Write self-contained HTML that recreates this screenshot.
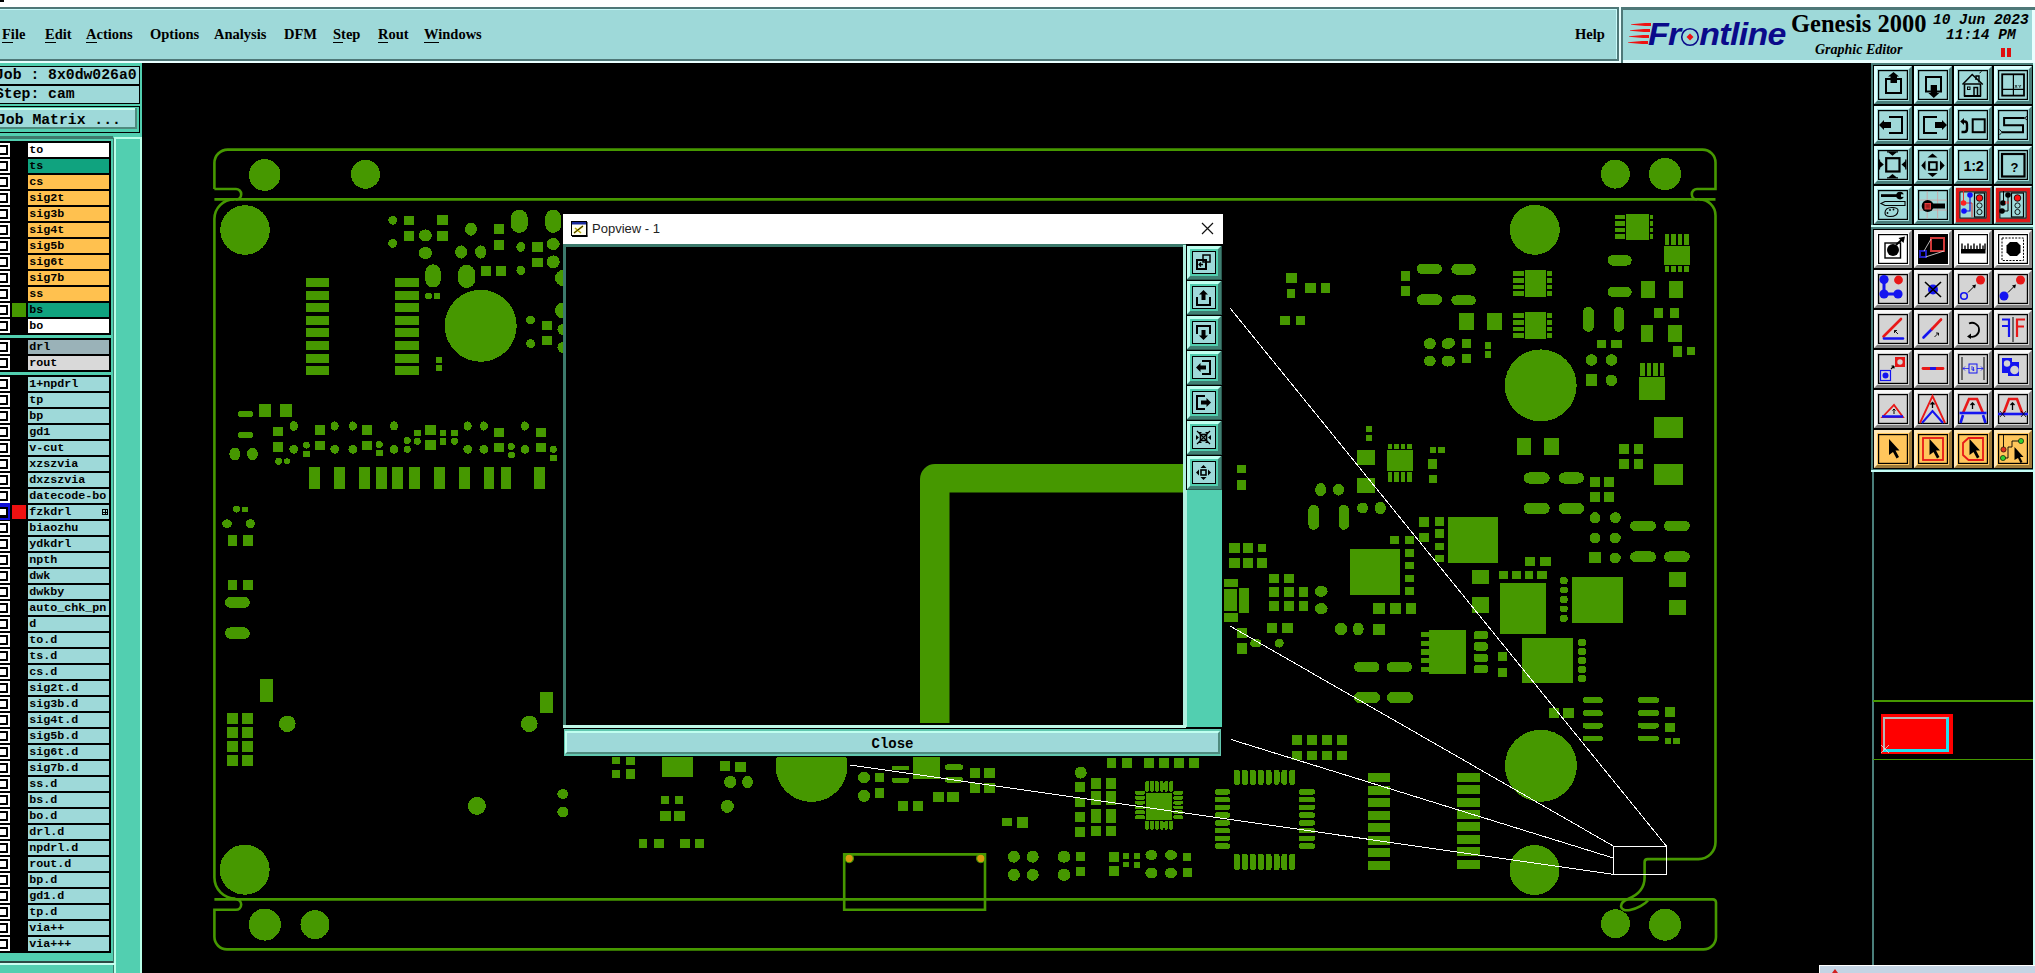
<!DOCTYPE html>
<html><head><meta charset="utf-8"><style>
html,body{margin:0;padding:0;width:2035px;height:973px;overflow:hidden;background:#000;position:relative}
div{box-sizing:border-box}
.a{position:absolute}
.mi{position:absolute;top:24px;font:bold 14.5px "Liberation Serif",serif;color:#000;line-height:20px;white-space:nowrap}
.lb{position:absolute;left:28px;width:81px;height:14px;font:bold 11.7px "Liberation Mono",monospace;line-height:14.6px;padding-left:1.2px;color:#000;white-space:nowrap;overflow:hidden}
.cb{position:absolute;left:0;width:10px;height:14px;background:#fff}
.cb i{position:absolute;left:-2px;top:2px;width:9.8px;height:10px;border:2px solid #000;box-sizing:border-box;background:#fff}
.tb{position:absolute;width:39px;height:39px;background:#4c7a74}
</style></head><body>

<div style="position:absolute;left:0;top:0;width:2035px;height:7px;background:#fff"></div>
<div style="position:absolute;left:0;top:0;width:4px;height:2px;background:#000"></div>
<div style="position:absolute;left:0;top:7px;width:1621px;height:56px;background:#4f7878"></div>
<div style="position:absolute;left:0;top:9px;width:1618px;height:50px;background:#c8fafa"></div>
<div style="position:absolute;left:0;top:10px;width:1616px;height:49px;background:#9ed9d9"></div>
<div style="position:absolute;left:0;top:59px;width:1618px;height:2px;background:#4f7878"></div>
<div style="position:absolute;left:1617px;top:9px;width:2px;height:52px;background:#4f7878"></div>
<div style="position:absolute;left:0;top:61px;width:1621px;height:2px;background:#e8ffff"></div>
<div style="position:absolute;left:1619px;top:7px;width:2px;height:56px;background:#e8ffff"></div>
<div style="position:absolute;left:1621px;top:7px;width:414px;height:56px;background:#4f7878"></div>
<div style="position:absolute;left:1623px;top:10px;width:412px;height:53px;background:#e8ffff"></div>
<div style="position:absolute;left:1623px;top:10px;width:409px;height:50px;background:#9ed9d9"></div>
<div class="mi" style="left:2px">File</div>
<div class="mi" style="left:45px">Edit</div>
<div class="mi" style="left:86px">Actions</div>
<div class="mi" style="left:150px">Options</div>
<div class="mi" style="left:214px">Analysis</div>
<div class="mi" style="left:284px">DFM</div>
<div class="mi" style="left:333px">Step</div>
<div class="mi" style="left:378px">Rout</div>
<div class="mi" style="left:424px">Windows</div>
<div class="mi" style="left:1575px">Help</div>
<div style="position:absolute;left:2px;top:42px;width:11px;height:1px;background:#000"></div>
<div style="position:absolute;left:45px;top:42px;width:11px;height:1px;background:#000"></div>
<div style="position:absolute;left:86px;top:42px;width:11px;height:1px;background:#000"></div>
<div style="position:absolute;left:333px;top:42px;width:10px;height:1px;background:#000"></div>
<div style="position:absolute;left:378px;top:42px;width:10px;height:1px;background:#000"></div>
<div style="position:absolute;left:424px;top:42px;width:15px;height:1px;background:#000"></div>
<div class="a" style="left:1631px;top:23px;width:20px;height:3px;background:#ee1111;clip-path:polygon(0 40%,70% 0,100% 0,100% 100%,70% 100%,0 60%)"></div>
<div class="a" style="left:1630px;top:29px;width:20px;height:3px;background:#ee1111;clip-path:polygon(0 40%,70% 0,100% 0,100% 100%,70% 100%,0 60%)"></div>
<div class="a" style="left:1629px;top:35px;width:20px;height:3px;background:#ee1111;clip-path:polygon(0 40%,70% 0,100% 0,100% 100%,70% 100%,0 60%)"></div>
<div class="a" style="left:1628px;top:41px;width:20px;height:3px;background:#ee1111;clip-path:polygon(0 40%,70% 0,100% 0,100% 100%,70% 100%,0 60%)"></div>
<div class="a" style="left:1648px;top:15px;font:bold italic 31px 'Liberation Sans',sans-serif;color:#0a0a8a;line-height:40px;letter-spacing:-0.6px;white-space:nowrap;transform:scaleX(1.095);transform-origin:0 0">Fr<span style="display:inline-block;width:17px"></span>ntline</div>
<svg class="a" style="left:1679px;top:26px" width="22" height="22"><circle cx="11" cy="11" r="8.3" fill="none" stroke="#0a0a8a" stroke-width="1.6"/><path d="M11 7.5 L14.5 11 L11 14.5 L7.5 11Z" fill="#ee1111"/></svg>
<div class="a" style="left:1791px;top:9px;font:bold 24.5px 'Liberation Serif',serif;color:#000;line-height:30px;white-space:nowrap">Genesis 2000</div>
<div class="a" style="left:1815px;top:42px;font:bold italic 14px 'Liberation Serif',serif;color:#000;line-height:16px;white-space:nowrap">Graphic Editor</div>
<div class="a" style="left:1933px;top:11.5px;font:bold italic 14.5px 'Liberation Mono',monospace;color:#000;line-height:16px;white-space:nowrap">10 Jun 2023</div>
<div class="a" style="left:1946px;top:26.5px;font:bold italic 14.5px 'Liberation Mono',monospace;color:#000;line-height:16px;white-space:nowrap">11:14 PM</div>
<div class="a" style="left:2001px;top:48px;width:4px;height:9px;background:#e01010"></div>
<div class="a" style="left:2007px;top:48px;width:4px;height:9px;background:#e01010"></div>
<div class="a" style="left:0px;top:63px;width:142px;height:910px;background:#52cfb0;"></div>
<div class="a" style="left:0px;top:66px;width:140px;height:38px;background:#000;"></div>
<div class="a" style="left:0px;top:67px;width:139px;height:17px;background:#9ed9d9;"></div>
<div class="a" style="left:0px;top:86px;width:139px;height:17px;background:#9ed9d9;"></div>
<div class="a" style="left:-5px;top:67px;font:bold 14.75px 'Liberation Mono',monospace;line-height:17px;white-space:nowrap">Job : 8x0dw026a0</div>
<div class="a" style="left:-5px;top:86px;font:bold 14.75px 'Liberation Mono',monospace;line-height:17px;white-space:nowrap">Step: cam</div>
<div class="a" style="left:0px;top:106px;width:140px;height:27px;background:#000;"></div>
<div class="a" style="left:0px;top:107px;width:139px;height:25px;background:#52cfb0;"></div>
<div class="a" style="left:0px;top:108px;width:137px;height:21px;background:#4f8a7e;"></div>
<div class="a" style="left:0px;top:108px;width:135px;height:2px;background:#c8fff0;"></div>
<div class="a" style="left:0px;top:110px;width:135px;height:17px;background:#9ed9d9;"></div>
<div class="a" style="left:-3px;top:111.5px;font:bold 14.75px 'Liberation Mono',monospace;line-height:17px;white-space:nowrap">Job Matrix ...</div>
<div class="a" style="left:0px;top:136px;width:113px;height:3px;background:#3f7a6c;"></div>
<div class="a" style="left:0px;top:139px;width:113px;height:2px;background:#52cfb0;"></div>
<div class="a" style="left:0px;top:141px;width:111px;height:812px;background:#000;"></div>
<div class="a" style="left:113px;top:138px;width:1px;height:835px;background:#3f7a6c;"></div>
<div class="a" style="left:114px;top:137px;width:28px;height:836px;background:#b8ffe8;"></div>
<div class="a" style="left:116px;top:139px;width:24px;height:834px;background:#52cfb0;"></div>
<div class="a" style="left:0px;top:961px;width:113px;height:2px;background:#2c4a44;"></div>
<div class="a" style="left:0px;top:963px;width:115px;height:2px;background:#c8fff0;"></div>
<div class="a" style="left:0px;top:335px;width:111px;height:3px;background:#52cfb0;"></div>
<div class="a" style="left:0px;top:372px;width:111px;height:3px;background:#52cfb0;"></div>
<div class="cb" style="top:143px"><i></i></div>
<div class="lb" style="top:143px;background:#ffffff">to</div>
<div class="cb" style="top:159px"><i></i></div>
<div class="lb" style="top:159px;background:#10a37f">ts</div>
<div class="cb" style="top:175px"><i></i></div>
<div class="lb" style="top:175px;background:#ffc14f">cs</div>
<div class="cb" style="top:191px"><i></i></div>
<div class="lb" style="top:191px;background:#ffc14f">sig2t</div>
<div class="cb" style="top:207px"><i></i></div>
<div class="lb" style="top:207px;background:#ffc14f">sig3b</div>
<div class="cb" style="top:223px"><i></i></div>
<div class="lb" style="top:223px;background:#ffc14f">sig4t</div>
<div class="cb" style="top:239px"><i></i></div>
<div class="lb" style="top:239px;background:#ffc14f">sig5b</div>
<div class="cb" style="top:255px"><i></i></div>
<div class="lb" style="top:255px;background:#ffc14f">sig6t</div>
<div class="cb" style="top:271px"><i></i></div>
<div class="lb" style="top:271px;background:#ffc14f">sig7b</div>
<div class="cb" style="top:287px"><i></i></div>
<div class="lb" style="top:287px;background:#ffc14f">ss</div>
<div class="cb" style="top:303px"><i></i></div>
<div class="lb" style="top:303px;background:#10a37f">bs</div>
<div class="cb" style="top:319px"><i></i></div>
<div class="lb" style="top:319px;background:#ffffff">bo</div>
<div class="cb" style="top:340px"><i></i></div>
<div class="lb" style="top:340px;background:#9ab2b8">drl</div>
<div class="cb" style="top:356px"><i></i></div>
<div class="lb" style="top:356px;background:#d9d9d9">rout</div>
<div class="cb" style="top:377px"><i></i></div>
<div class="lb" style="top:377px;background:#9ed9d9">1+npdrl</div>
<div class="cb" style="top:393px"><i></i></div>
<div class="lb" style="top:393px;background:#9ed9d9">tp</div>
<div class="cb" style="top:409px"><i></i></div>
<div class="lb" style="top:409px;background:#9ed9d9">bp</div>
<div class="cb" style="top:425px"><i></i></div>
<div class="lb" style="top:425px;background:#9ed9d9">gd1</div>
<div class="cb" style="top:441px"><i></i></div>
<div class="lb" style="top:441px;background:#9ed9d9">v-cut</div>
<div class="cb" style="top:457px"><i></i></div>
<div class="lb" style="top:457px;background:#9ed9d9">xzszvia</div>
<div class="cb" style="top:473px"><i></i></div>
<div class="lb" style="top:473px;background:#9ed9d9">dxzszvia</div>
<div class="cb" style="top:489px"><i></i></div>
<div class="lb" style="top:489px;background:#9ed9d9">datecode-bo</div>
<div class="cb" style="top:505px"><i></i></div>
<div class="lb" style="top:505px;background:#9ed9d9">fzkdrl</div>
<div class="cb" style="top:521px"><i></i></div>
<div class="lb" style="top:521px;background:#9ed9d9">biaozhu</div>
<div class="cb" style="top:537px"><i></i></div>
<div class="lb" style="top:537px;background:#9ed9d9">ydkdrl</div>
<div class="cb" style="top:553px"><i></i></div>
<div class="lb" style="top:553px;background:#9ed9d9">npth</div>
<div class="cb" style="top:569px"><i></i></div>
<div class="lb" style="top:569px;background:#9ed9d9">dwk</div>
<div class="cb" style="top:585px"><i></i></div>
<div class="lb" style="top:585px;background:#9ed9d9">dwkby</div>
<div class="cb" style="top:601px"><i></i></div>
<div class="lb" style="top:601px;background:#9ed9d9">auto_chk_pn</div>
<div class="cb" style="top:617px"><i></i></div>
<div class="lb" style="top:617px;background:#9ed9d9">d</div>
<div class="cb" style="top:633px"><i></i></div>
<div class="lb" style="top:633px;background:#9ed9d9">to.d</div>
<div class="cb" style="top:649px"><i></i></div>
<div class="lb" style="top:649px;background:#9ed9d9">ts.d</div>
<div class="cb" style="top:665px"><i></i></div>
<div class="lb" style="top:665px;background:#9ed9d9">cs.d</div>
<div class="cb" style="top:681px"><i></i></div>
<div class="lb" style="top:681px;background:#9ed9d9">sig2t.d</div>
<div class="cb" style="top:697px"><i></i></div>
<div class="lb" style="top:697px;background:#9ed9d9">sig3b.d</div>
<div class="cb" style="top:713px"><i></i></div>
<div class="lb" style="top:713px;background:#9ed9d9">sig4t.d</div>
<div class="cb" style="top:729px"><i></i></div>
<div class="lb" style="top:729px;background:#9ed9d9">sig5b.d</div>
<div class="cb" style="top:745px"><i></i></div>
<div class="lb" style="top:745px;background:#9ed9d9">sig6t.d</div>
<div class="cb" style="top:761px"><i></i></div>
<div class="lb" style="top:761px;background:#9ed9d9">sig7b.d</div>
<div class="cb" style="top:777px"><i></i></div>
<div class="lb" style="top:777px;background:#9ed9d9">ss.d</div>
<div class="cb" style="top:793px"><i></i></div>
<div class="lb" style="top:793px;background:#9ed9d9">bs.d</div>
<div class="cb" style="top:809px"><i></i></div>
<div class="lb" style="top:809px;background:#9ed9d9">bo.d</div>
<div class="cb" style="top:825px"><i></i></div>
<div class="lb" style="top:825px;background:#9ed9d9">drl.d</div>
<div class="cb" style="top:841px"><i></i></div>
<div class="lb" style="top:841px;background:#9ed9d9">npdrl.d</div>
<div class="cb" style="top:857px"><i></i></div>
<div class="lb" style="top:857px;background:#9ed9d9">rout.d</div>
<div class="cb" style="top:873px"><i></i></div>
<div class="lb" style="top:873px;background:#9ed9d9">bp.d</div>
<div class="cb" style="top:889px"><i></i></div>
<div class="lb" style="top:889px;background:#9ed9d9">gd1.d</div>
<div class="cb" style="top:905px"><i></i></div>
<div class="lb" style="top:905px;background:#9ed9d9">tp.d</div>
<div class="cb" style="top:921px"><i></i></div>
<div class="lb" style="top:921px;background:#9ed9d9">via++</div>
<div class="cb" style="top:937px"><i></i></div>
<div class="lb" style="top:937px;background:#9ed9d9">via+++</div>
<div class="a" style="left:12px;top:303px;width:14px;height:14px;background:#469800;"></div>
<div class="a" style="left:0px;top:503px;width:10px;height:17px;background:#1010d8;"></div>
<div class="a" style="left:0px;top:506.5px;width:8px;height:11px;background:#000;"></div>
<div class="a" style="left:0px;top:509px;width:6px;height:6px;background:#fff;"></div>
<div class="a" style="left:12px;top:505px;width:14px;height:14px;background:#ee1111;"></div>
<div class="a" style="left:102px;top:509px;width:6px;height:6px;border:1px solid #000;box-sizing:border-box;background:linear-gradient(#000,#000) center/1px 100% no-repeat,linear-gradient(#000,#000) center/100% 1px no-repeat"></div>
<svg class="a" style="left:0;top:0" width="2035" height="973" viewBox="0 0 2035 973">
<g fill="#469800" shape-rendering="crispEdges">
<circle cx="264.7" cy="175" r="15.8"/>
<circle cx="365.5" cy="174.2" r="14.5"/>
<circle cx="245" cy="230" r="24.8"/>
<circle cx="480.7" cy="325.8" r="36"/>
<rect x="306" y="278" width="23.4" height="9"/>
<rect x="306" y="290.6" width="23.4" height="9"/>
<rect x="306" y="303.2" width="23.4" height="9"/>
<rect x="306" y="315.8" width="23.4" height="9"/>
<rect x="306" y="328.4" width="23.4" height="9"/>
<rect x="306" y="341" width="23.4" height="9"/>
<rect x="306" y="353.6" width="23.4" height="9"/>
<rect x="306" y="366.2" width="23.4" height="9"/>
<rect x="395" y="278" width="23.6" height="9"/>
<rect x="395" y="290.6" width="23.6" height="9"/>
<rect x="395" y="303.2" width="23.6" height="9"/>
<rect x="395" y="315.8" width="23.6" height="9"/>
<rect x="395" y="328.4" width="23.6" height="9"/>
<rect x="395" y="341" width="23.6" height="9"/>
<rect x="395" y="353.6" width="23.6" height="9"/>
<rect x="395" y="366.2" width="23.6" height="9"/>
<rect x="436" y="357" width="6" height="6"/>
<rect x="436" y="365" width="6" height="6"/>
<circle cx="392.7" cy="220.3" r="4.4"/>
<rect x="404" y="216" width="9.5" height="8.7"/>
<rect x="437" y="215" width="10.6" height="9.7"/>
<circle cx="392.7" cy="243.4" r="4.4"/>
<rect x="404" y="231" width="9.5" height="9.7"/>
<ellipse cx="425.3" cy="235.4" rx="6.6" ry="6"/>
<rect x="437" y="231" width="10.6" height="9.7"/>
<ellipse cx="425.3" cy="253" rx="6.6" ry="6"/>
<ellipse cx="471" cy="229.2" rx="5.9" ry="6.6"/>
<rect x="494" y="224" width="10" height="10"/>
<rect x="494" y="240" width="10" height="10"/>
<rect x="510.8" y="209.7" width="17" height="23.2" rx="8.5"/>
<rect x="545.3" y="209.7" width="15.8" height="23.2" rx="7.9"/>
<ellipse cx="461.1" cy="252" rx="6" ry="6.6"/>
<ellipse cx="480.7" cy="252" rx="5.6" ry="6.6"/>
<ellipse cx="520.8" cy="246.9" rx="4.4" ry="5"/>
<rect x="532" y="242" width="10.8" height="9.8"/>
<ellipse cx="553.2" cy="244" rx="6.5" ry="6"/>
<rect x="532" y="258" width="10.8" height="8.8"/>
<circle cx="553.2" cy="261.9" r="6.5"/>
<rect x="425.3" y="264.4" width="15.4" height="23.2" rx="7.7"/>
<rect x="458.1" y="264.8" width="17" height="23.2" rx="8.5"/>
<rect x="481.1" y="266" width="9.9" height="10.4"/>
<rect x="496" y="266" width="9.8" height="10.4"/>
<ellipse cx="520.8" cy="270.3" rx="4.4" ry="4.8"/>
<circle cx="563" cy="278" r="8"/>
<ellipse cx="428.3" cy="296" rx="3.5" ry="3.2"/>
<rect x="434" y="293" width="6" height="5.6"/>
<circle cx="563" cy="310.5" r="8"/>
<circle cx="530.6" cy="320" r="4.4"/>
<circle cx="530.6" cy="343.6" r="4.4"/>
<rect x="542" y="321.4" width="10" height="8.9"/>
<rect x="542" y="336" width="10" height="9"/>
<circle cx="563" cy="329.5" r="5.5"/>
<circle cx="563" cy="347.5" r="5.5"/>
<rect x="237.6" y="411" width="15.4" height="6" rx="3"/>
<rect x="259" y="404" width="12" height="13"/>
<rect x="280" y="404" width="12" height="13"/>
<rect x="237.6" y="432" width="15.4" height="6" rx="3"/>
<ellipse cx="234.8" cy="454" rx="5.5" ry="6.5"/>
<ellipse cx="252.5" cy="454" rx="5.5" ry="6"/>
<rect x="273" y="427" width="9.5" height="8.6"/>
<rect x="273" y="442" width="9.5" height="10"/>
<ellipse cx="293.7" cy="426" rx="4.2" ry="5"/>
<circle cx="293.7" cy="449.3" r="4.4"/>
<circle cx="306.4" cy="445.2" r="3.4"/>
<rect x="303" y="451" width="7" height="5.9"/>
<circle cx="278.6" cy="461.3" r="3.4"/>
<circle cx="287" cy="461.3" r="3"/>
<rect x="315.3" y="425" width="9.3" height="9.6"/>
<rect x="315.3" y="441.3" width="9.3" height="8.5"/>
<ellipse cx="334.7" cy="426" rx="4" ry="4.6"/>
<circle cx="334.7" cy="449.3" r="4.4"/>
<ellipse cx="352.8" cy="426" rx="4" ry="4.6"/>
<circle cx="352.8" cy="449.3" r="4.4"/>
<rect x="362" y="425" width="9.5" height="9.6"/>
<rect x="362" y="441.3" width="9.5" height="8.5"/>
<circle cx="379.3" cy="444.5" r="3.5"/>
<rect x="376.3" y="450" width="6.5" height="5.8"/>
<ellipse cx="394" cy="426" rx="4" ry="4.6"/>
<circle cx="394" cy="449.3" r="4.4"/>
<circle cx="407.2" cy="440.4" r="3.5"/>
<circle cx="407.2" cy="449.3" r="3.5"/>
<rect x="414.3" y="430.3" width="6.7" height="5.3"/>
<circle cx="417.3" cy="441.3" r="3.5"/>
<rect x="425.3" y="425" width="10.6" height="10"/>
<rect x="425.3" y="440" width="10.6" height="10"/>
<rect x="440" y="430.3" width="6.2" height="5.3"/>
<rect x="440" y="438" width="6.2" height="7.2"/>
<rect x="451" y="430.3" width="7" height="5.3"/>
<circle cx="454.5" cy="441.3" r="3.5"/>
<ellipse cx="467.7" cy="426" rx="4" ry="4.6"/>
<circle cx="467.7" cy="449.3" r="4.4"/>
<ellipse cx="483.8" cy="426" rx="4" ry="4.6"/>
<circle cx="483.8" cy="449.3" r="4.4"/>
<rect x="494" y="428" width="10" height="9.4"/>
<rect x="494" y="443" width="10" height="9.4"/>
<circle cx="511.3" cy="446.6" r="3.5"/>
<circle cx="511.3" cy="455" r="3.5"/>
<ellipse cx="524.9" cy="426" rx="4" ry="4.6"/>
<circle cx="524.9" cy="449.3" r="4.4"/>
<rect x="536.4" y="428" width="9.2" height="9.4"/>
<rect x="536.4" y="443" width="9.2" height="9.4"/>
<circle cx="553.2" cy="449.3" r="3.5"/>
<rect x="550" y="455" width="6.7" height="5.8"/>
<rect x="309" y="467" width="11" height="22.4"/>
<rect x="333.8" y="467" width="11.2" height="22.4"/>
<rect x="359" y="467" width="11" height="22.4"/>
<rect x="376" y="467" width="11" height="22.4"/>
<rect x="392" y="467" width="11" height="22.4"/>
<rect x="409" y="467" width="11" height="22.4"/>
<rect x="434" y="467" width="11" height="22.4"/>
<rect x="459" y="467" width="11" height="22.4"/>
<rect x="483.8" y="467" width="10.2" height="22.4"/>
<rect x="500.5" y="467" width="10.5" height="22.4"/>
<rect x="534" y="467" width="11" height="22.4"/>
<circle cx="236.5" cy="509.1" r="3.5"/>
<rect x="242" y="507.2" width="5.9" height="4.7"/>
<ellipse cx="227" cy="523.6" rx="5" ry="4.3"/>
<circle cx="250.4" cy="523.6" r="4.5"/>
<rect x="228" y="535" width="9" height="10.7"/>
<rect x="243" y="535" width="9.7" height="10.7"/>
<rect x="228" y="580.2" width="9" height="9.4"/>
<rect x="243" y="580.2" width="9.7" height="9.4"/>
<rect x="225" y="597" width="24.8" height="10.8" rx="5.4"/>
<rect x="225" y="627.3" width="24.8" height="11.5" rx="5.8"/>
<rect x="260" y="679" width="13" height="22.6"/>
<rect x="227" y="713" width="10.6" height="10.5"/>
<rect x="227" y="727" width="10.6" height="10.5"/>
<rect x="227" y="741" width="10.6" height="10.5"/>
<rect x="227" y="755" width="10.6" height="10.5"/>
<rect x="242.2" y="713" width="10.8" height="10.5"/>
<rect x="242.2" y="727" width="10.8" height="10.5"/>
<rect x="242.2" y="741" width="10.8" height="10.5"/>
<rect x="242.2" y="755" width="10.8" height="10.5"/>
<circle cx="287.3" cy="723.8" r="8.3"/>
<rect x="540" y="691.8" width="13" height="21.2"/>
<circle cx="529.3" cy="723.8" r="8.3"/>
<circle cx="476.9" cy="805.9" r="9"/>
<ellipse cx="562.8" cy="794" rx="5.5" ry="4.8"/>
<ellipse cx="562.8" cy="812" rx="5.5" ry="5.5"/>
<circle cx="244.7" cy="869.7" r="25"/>
<circle cx="264.8" cy="924.6" r="16"/>
<circle cx="315" cy="924.6" r="14.5"/>
<rect x="612" y="757" width="8.2" height="6.7"/>
<rect x="626" y="757" width="9.2" height="8"/>
<rect x="612" y="770" width="8.2" height="7.6"/>
<rect x="626" y="768.8" width="9.2" height="9.9"/>
<rect x="662" y="757" width="31" height="19.5"/>
<rect x="720" y="760.6" width="9.8" height="10.4"/>
<rect x="735" y="761.7" width="10.8" height="10.3"/>
<circle cx="730.3" cy="782" r="6.2"/>
<ellipse cx="747.5" cy="782" rx="5.3" ry="6.4"/>
<circle cx="727.4" cy="806.4" r="6.5"/>
<circle cx="811.5" cy="766" r="36"/>
<rect x="661" y="796" width="8" height="7.7"/>
<rect x="675" y="796" width="8.2" height="7.7"/>
<rect x="660.2" y="811.3" width="10.4" height="9.5"/>
<rect x="674.3" y="811.3" width="10.2" height="9.5"/>
<rect x="639" y="839" width="8" height="9"/>
<rect x="654" y="839" width="10" height="9"/>
<rect x="680" y="839" width="10" height="9"/>
<rect x="695" y="839" width="9" height="9"/>
<circle cx="864" cy="777.6" r="6"/>
<circle cx="864" cy="795.8" r="6"/>
<rect x="875" y="772.8" width="9" height="9.2"/>
<rect x="875" y="788" width="9" height="10"/>
<rect x="891.7" y="765.5" width="17.7" height="4.8" rx="2.4"/>
<rect x="891.7" y="777.6" width="17.7" height="5.1" rx="2.6"/>
<rect x="913" y="757" width="27" height="21.7"/>
<rect x="945" y="764.4" width="18" height="5.9" rx="2.9"/>
<rect x="945" y="777.2" width="18" height="5.5" rx="2.8"/>
<rect x="970.2" y="768.4" width="9.8" height="9.6"/>
<rect x="984" y="768.4" width="10.5" height="9.6"/>
<rect x="970.2" y="783" width="9.8" height="9.5"/>
<rect x="984" y="783" width="10.5" height="9.5"/>
<rect x="933.3" y="792" width="10.4" height="9.5"/>
<rect x="947.4" y="792" width="11.6" height="9.5"/>
<rect x="898.3" y="801.3" width="10" height="9.5"/>
<rect x="913" y="801.3" width="10.3" height="9.5"/>
<rect x="1002" y="818" width="10" height="8"/>
<rect x="1017" y="817.3" width="10.6" height="10.7"/>
<rect x="1107" y="758" width="9" height="9.5"/>
<rect x="1122" y="758" width="10" height="9.5"/>
<rect x="1144" y="758" width="10" height="9.5"/>
<rect x="1159" y="758" width="10" height="9.5"/>
<rect x="1174" y="758" width="10" height="9.5"/>
<rect x="1189" y="758" width="10" height="9.5"/>
<circle cx="1080.7" cy="772.6" r="6"/>
<rect x="1075" y="782" width="9.6" height="10"/>
<rect x="1075" y="798" width="9.6" height="9"/>
<rect x="1075" y="812" width="9.6" height="10"/>
<rect x="1075" y="827" width="9.6" height="9.8"/>
<rect x="1091" y="778" width="9.6" height="10.5"/>
<rect x="1091" y="791" width="9.6" height="14"/>
<rect x="1091" y="808.5" width="9.6" height="14.3"/>
<rect x="1091" y="826" width="9.6" height="10"/>
<rect x="1106" y="778" width="10" height="10.5"/>
<rect x="1106" y="791" width="10" height="14"/>
<rect x="1106" y="808.5" width="10" height="14.3"/>
<rect x="1106" y="826" width="10" height="10"/>
<rect x="1146" y="792.7" width="26.2" height="26.9"/>
<rect x="1145.2" y="781" width="4" height="10.8" rx="1.8"/>
<rect x="1145.2" y="820.5" width="4" height="9.3" rx="1.8"/>
<rect x="1135" y="791" width="10" height="3.8" rx="1.8"/>
<rect x="1173.2" y="791" width="9.8" height="3.8" rx="1.8"/>
<rect x="1150" y="781" width="4" height="10.8" rx="1.8"/>
<rect x="1150" y="820.5" width="4" height="9.3" rx="1.8"/>
<rect x="1135" y="795.9" width="10" height="3.8" rx="1.8"/>
<rect x="1173.2" y="795.9" width="9.8" height="3.8" rx="1.8"/>
<rect x="1154.8" y="781" width="4" height="10.8" rx="1.8"/>
<rect x="1154.8" y="820.5" width="4" height="9.3" rx="1.8"/>
<rect x="1135" y="800.7" width="10" height="3.8" rx="1.8"/>
<rect x="1173.2" y="800.7" width="9.8" height="3.8" rx="1.8"/>
<rect x="1159.6" y="781" width="4" height="10.8" rx="1.8"/>
<rect x="1159.6" y="820.5" width="4" height="9.3" rx="1.8"/>
<rect x="1135" y="805.5" width="10" height="3.8" rx="1.8"/>
<rect x="1173.2" y="805.5" width="9.8" height="3.8" rx="1.8"/>
<rect x="1164.4" y="781" width="4" height="10.8" rx="1.8"/>
<rect x="1164.4" y="820.5" width="4" height="9.3" rx="1.8"/>
<rect x="1135" y="810.4" width="10" height="3.8" rx="1.8"/>
<rect x="1173.2" y="810.4" width="9.8" height="3.8" rx="1.8"/>
<rect x="1169.2" y="781" width="4" height="10.8" rx="1.8"/>
<rect x="1169.2" y="820.5" width="4" height="9.3" rx="1.8"/>
<rect x="1135" y="815.2" width="10" height="3.8" rx="1.8"/>
<rect x="1173.2" y="815.2" width="9.8" height="3.8" rx="1.8"/>
<circle cx="1013.9" cy="856.7" r="6"/>
<circle cx="1032.7" cy="856.7" r="6"/>
<circle cx="1013.9" cy="874.8" r="6"/>
<circle cx="1032.7" cy="874.8" r="6"/>
<ellipse cx="1064" cy="856.7" rx="6.5" ry="6"/>
<ellipse cx="1064" cy="874.8" rx="6.5" ry="6"/>
<rect x="1076" y="852" width="9" height="9"/>
<rect x="1076" y="867" width="9" height="9"/>
<rect x="1109" y="852" width="10.4" height="9.6"/>
<rect x="1109" y="866" width="10.4" height="10"/>
<rect x="1123" y="853" width="6" height="6"/>
<rect x="1123" y="862" width="6" height="5"/>
<rect x="1134" y="853" width="6" height="6"/>
<rect x="1134" y="861.5" width="6" height="6.2"/>
<ellipse cx="1151.4" cy="855" rx="6" ry="5"/>
<ellipse cx="1170.9" cy="855" rx="6" ry="5"/>
<ellipse cx="1151.4" cy="873" rx="6" ry="5.5"/>
<ellipse cx="1170.9" cy="873" rx="6" ry="5.5"/>
<rect x="1183" y="852.7" width="8" height="8.2"/>
<rect x="1183" y="867.7" width="9" height="9.3"/>
<rect x="1233.9" y="769.8" width="6" height="15" rx="2.5"/>
<rect x="1241.9" y="769.8" width="6" height="15" rx="2.5"/>
<rect x="1249.8" y="769.8" width="6" height="15" rx="2.5"/>
<rect x="1257.7" y="769.8" width="6" height="15" rx="2.5"/>
<rect x="1265.6" y="769.8" width="6" height="15" rx="2.5"/>
<rect x="1273.5" y="769.8" width="6" height="15" rx="2.5"/>
<rect x="1281.4" y="769.8" width="6" height="15" rx="2.5"/>
<rect x="1289.3" y="769.8" width="6" height="15" rx="2.5"/>
<rect x="1233.9" y="853.8" width="6" height="16.2" rx="2.5"/>
<rect x="1241.9" y="853.8" width="6" height="16.2" rx="2.5"/>
<rect x="1249.8" y="853.8" width="6" height="16.2" rx="2.5"/>
<rect x="1257.7" y="853.8" width="6" height="16.2" rx="2.5"/>
<rect x="1265.6" y="853.8" width="6" height="16.2" rx="2.5"/>
<rect x="1273.5" y="853.8" width="6" height="16.2" rx="2.5"/>
<rect x="1281.4" y="853.8" width="6" height="16.2" rx="2.5"/>
<rect x="1289.3" y="853.8" width="6" height="16.2" rx="2.5"/>
<rect x="1214.5" y="789.1" width="15.5" height="5.6" rx="2.3"/>
<rect x="1214.5" y="796.8" width="15.5" height="5.6" rx="2.3"/>
<rect x="1214.5" y="804.6" width="15.5" height="5.6" rx="2.3"/>
<rect x="1214.5" y="812.3" width="15.5" height="5.6" rx="2.3"/>
<rect x="1214.5" y="820.1" width="15.5" height="5.6" rx="2.3"/>
<rect x="1214.5" y="827.8" width="15.5" height="5.6" rx="2.3"/>
<rect x="1214.5" y="835.6" width="15.5" height="5.6" rx="2.3"/>
<rect x="1214.5" y="843.3" width="15.5" height="5.6" rx="2.3"/>
<rect x="1298.5" y="789.1" width="16.5" height="5.6" rx="2.3"/>
<rect x="1298.5" y="796.8" width="16.5" height="5.6" rx="2.3"/>
<rect x="1298.5" y="804.6" width="16.5" height="5.6" rx="2.3"/>
<rect x="1298.5" y="812.3" width="16.5" height="5.6" rx="2.3"/>
<rect x="1298.5" y="820.1" width="16.5" height="5.6" rx="2.3"/>
<rect x="1298.5" y="827.8" width="16.5" height="5.6" rx="2.3"/>
<rect x="1298.5" y="835.6" width="16.5" height="5.6" rx="2.3"/>
<rect x="1298.5" y="843.3" width="16.5" height="5.6" rx="2.3"/>
<rect x="1292" y="735" width="10" height="9.8"/>
<rect x="1306.7" y="735" width="10.3" height="9.8"/>
<rect x="1321.7" y="735" width="10.3" height="9.8"/>
<rect x="1336.7" y="735" width="9.8" height="9.8"/>
<rect x="1292" y="750.5" width="10" height="9.5"/>
<rect x="1306.7" y="750.5" width="10.3" height="9.5"/>
<rect x="1321.7" y="750.5" width="10.3" height="9.5"/>
<rect x="1336.7" y="750.5" width="9.8" height="9.5"/>
<rect x="1368" y="773" width="22" height="9"/>
<rect x="1368" y="785.5" width="22" height="9"/>
<rect x="1368" y="798" width="22" height="9"/>
<rect x="1368" y="810.5" width="22" height="9"/>
<rect x="1368" y="823" width="22" height="9"/>
<rect x="1368" y="835.5" width="22" height="9"/>
<rect x="1368" y="848" width="22" height="9"/>
<rect x="1368" y="860.5" width="22" height="9"/>
<circle cx="1540.9" cy="765.8" r="36"/>
<circle cx="1534.5" cy="870" r="25"/>
<circle cx="1615.5" cy="923.8" r="14.5"/>
<circle cx="1665" cy="924.7" r="16"/>
<rect x="1457.4" y="772.7" width="22.1" height="9"/>
<rect x="1457.4" y="785.1" width="22.1" height="9"/>
<rect x="1457.4" y="797.5" width="22.1" height="9"/>
<rect x="1457.4" y="809.9" width="22.1" height="9"/>
<rect x="1457.4" y="822.3" width="22.1" height="9"/>
<rect x="1457.4" y="834.7" width="22.1" height="9"/>
<rect x="1457.4" y="847.1" width="22.1" height="9"/>
<rect x="1457.4" y="859.5" width="22.1" height="9"/>
<rect x="1582.6" y="697.3" width="20.2" height="5.7" rx="2.9"/>
<rect x="1582.6" y="710.2" width="20.2" height="5.8" rx="2.9"/>
<rect x="1582.6" y="722.6" width="20.2" height="5.9" rx="2.9"/>
<rect x="1582.6" y="735.6" width="20.2" height="5.8" rx="2.9"/>
<rect x="1637.9" y="697.3" width="21.1" height="5.7" rx="2.9"/>
<rect x="1637.9" y="710.2" width="21.1" height="5.8" rx="2.9"/>
<rect x="1637.9" y="722.6" width="21.1" height="5.9" rx="2.9"/>
<rect x="1637.9" y="735.6" width="21.1" height="5.8" rx="2.9"/>
<rect x="1664.7" y="707.4" width="10.6" height="9.2"/>
<rect x="1664.7" y="722.6" width="10.6" height="9.2"/>
<rect x="1664.7" y="737.6" width="6.3" height="6.4"/>
<rect x="1673" y="737.6" width="7" height="6.4"/>
<rect x="1549" y="708" width="9.7" height="10.3"/>
<rect x="1563.3" y="708" width="10.7" height="10.3"/>
<circle cx="1615.3" cy="174.1" r="14.5"/>
<circle cx="1665" cy="174.1" r="16"/>
<circle cx="1534.8" cy="229.8" r="25"/>
<circle cx="1540.7" cy="385.4" r="36"/>
<rect x="1626.3" y="213.5" width="22.3" height="26.2"/>
<rect x="1615.3" y="214.5" width="9.5" height="4.6"/>
<rect x="1650.1" y="214.5" width="2.9" height="4.6"/>
<rect x="1615.3" y="221" width="9.5" height="4.6"/>
<rect x="1650.1" y="221" width="2.9" height="4.6"/>
<rect x="1615.3" y="227.6" width="9.5" height="4.6"/>
<rect x="1650.1" y="227.6" width="2.9" height="4.6"/>
<rect x="1615.3" y="234.1" width="9.5" height="4.6"/>
<rect x="1650.1" y="234.1" width="2.9" height="4.6"/>
<rect x="1663.5" y="245.6" width="26.3" height="19.1"/>
<rect x="1664.5" y="234.3" width="4.6" height="10.3"/>
<rect x="1664.5" y="265.7" width="4.6" height="5.9"/>
<rect x="1671.1" y="234.3" width="4.6" height="10.3"/>
<rect x="1671.1" y="265.7" width="4.6" height="5.9"/>
<rect x="1677.6" y="234.3" width="4.6" height="10.3"/>
<rect x="1677.6" y="265.7" width="4.6" height="5.9"/>
<rect x="1684.2" y="234.3" width="4.6" height="10.3"/>
<rect x="1684.2" y="265.7" width="4.6" height="5.9"/>
<rect x="1607.5" y="255.2" width="24.2" height="10.4" rx="5.2"/>
<rect x="1607.5" y="286.5" width="24.2" height="10.5" rx="5.2"/>
<rect x="1641.2" y="281.4" width="14" height="16.1"/>
<rect x="1669" y="281.4" width="14" height="16.1"/>
<rect x="1582.9" y="306.8" width="11" height="25" rx="5.5"/>
<rect x="1613.6" y="306.8" width="10.4" height="25" rx="5.2"/>
<rect x="1654" y="308.2" width="9" height="9.6"/>
<rect x="1669.5" y="308.2" width="9.5" height="9.6"/>
<rect x="1641.2" y="325.2" width="11.8" height="17"/>
<rect x="1668" y="325.2" width="14" height="17"/>
<rect x="1672.5" y="346" width="9.5" height="10.5"/>
<rect x="1687.4" y="347" width="7.4" height="8"/>
<rect x="1597.4" y="339.5" width="8.6" height="8.7"/>
<rect x="1611.4" y="339.5" width="10.4" height="8.7"/>
<circle cx="1591.4" cy="360" r="5.8"/>
<circle cx="1611.4" cy="360" r="5.8"/>
<rect x="1585.5" y="374.4" width="11.5" height="11.3"/>
<circle cx="1611.4" cy="380.4" r="5.8"/>
<rect x="1639" y="376.8" width="26" height="22.9"/>
<rect x="1640" y="362.5" width="4.6" height="13.3"/>
<rect x="1646.5" y="362.5" width="4.6" height="13.3"/>
<rect x="1653" y="362.5" width="4.6" height="13.3"/>
<rect x="1659.5" y="362.5" width="4.6" height="13.3"/>
<rect x="1525" y="270" width="20.8" height="27"/>
<rect x="1513" y="271" width="10.5" height="4.7"/>
<rect x="1547.3" y="271" width="4.5" height="4.7"/>
<rect x="1513" y="277.8" width="10.5" height="4.7"/>
<rect x="1547.3" y="277.8" width="4.5" height="4.7"/>
<rect x="1513" y="284.5" width="10.5" height="4.7"/>
<rect x="1547.3" y="284.5" width="4.5" height="4.7"/>
<rect x="1513" y="291.3" width="10.5" height="4.7"/>
<rect x="1547.3" y="291.3" width="4.5" height="4.7"/>
<rect x="1525" y="312.4" width="20.8" height="26.2"/>
<rect x="1513" y="313.4" width="10.5" height="4.6"/>
<rect x="1547.3" y="313.4" width="4.5" height="4.6"/>
<rect x="1513" y="319.9" width="10.5" height="4.6"/>
<rect x="1547.3" y="319.9" width="4.5" height="4.6"/>
<rect x="1513" y="326.5" width="10.5" height="4.6"/>
<rect x="1547.3" y="326.5" width="4.5" height="4.6"/>
<rect x="1513" y="333" width="10.5" height="4.6"/>
<rect x="1547.3" y="333" width="4.5" height="4.6"/>
<rect x="1451.3" y="264" width="24.5" height="10.6" rx="5.3"/>
<rect x="1451.3" y="295.4" width="24.5" height="9.9" rx="5"/>
<rect x="1458.5" y="313.3" width="15.2" height="16.4"/>
<rect x="1486.8" y="313.3" width="15.2" height="16.4"/>
<ellipse cx="1449" cy="343" rx="6" ry="5.5"/>
<ellipse cx="1449" cy="361" rx="6" ry="5.5"/>
<rect x="1461.8" y="338.6" width="8.9" height="9.6"/>
<rect x="1461.8" y="353.5" width="8.9" height="9.6"/>
<rect x="1484.7" y="342" width="6.6" height="7"/>
<rect x="1484.7" y="351" width="6.6" height="7"/>
<rect x="1654" y="417" width="29" height="20.9"/>
<rect x="1654" y="464" width="29" height="21"/>
<rect x="1286" y="272.8" width="11" height="10.4"/>
<rect x="1287" y="288.6" width="8.3" height="9.4"/>
<rect x="1305" y="283.2" width="11.2" height="9.8"/>
<rect x="1321.2" y="283.2" width="9.1" height="9.8"/>
<rect x="1280" y="316" width="10.3" height="9"/>
<rect x="1296" y="316" width="9" height="9"/>
<rect x="1401.4" y="270.8" width="8.6" height="9.9"/>
<rect x="1401.4" y="286" width="8.6" height="10.3"/>
<rect x="1416.7" y="264" width="25.3" height="9.8" rx="4.9"/>
<rect x="1416.7" y="294.3" width="25.3" height="10.7" rx="5.3"/>
<ellipse cx="1429.8" cy="343.7" rx="6" ry="5.5"/>
<ellipse cx="1447.5" cy="343.7" rx="6" ry="5.5"/>
<ellipse cx="1429.8" cy="361" rx="6" ry="5.5"/>
<ellipse cx="1447.5" cy="361" rx="6" ry="5.5"/>
<rect x="1366" y="426.3" width="5.8" height="5.7"/>
<rect x="1366" y="435" width="5.8" height="6"/>
<rect x="1357" y="450.3" width="18" height="14.3"/>
<rect x="1386.6" y="449.8" width="25.9" height="21"/>
<rect x="1387.6" y="444" width="4.5" height="4.8"/>
<rect x="1387.6" y="471.8" width="4.5" height="10.4"/>
<rect x="1394" y="444" width="4.5" height="4.8"/>
<rect x="1394" y="471.8" width="4.5" height="10.4"/>
<rect x="1400.5" y="444" width="4.5" height="4.8"/>
<rect x="1400.5" y="471.8" width="4.5" height="10.4"/>
<rect x="1407" y="444" width="4.5" height="4.8"/>
<rect x="1407" y="471.8" width="4.5" height="10.4"/>
<rect x="1429.8" y="447.3" width="6.2" height="5.4"/>
<rect x="1438.4" y="447.3" width="6.2" height="5.4"/>
<rect x="1428" y="459" width="9.2" height="10"/>
<rect x="1236.8" y="465" width="9.2" height="7.8"/>
<rect x="1236.8" y="480.2" width="9.6" height="9.8"/>
<ellipse cx="1320.7" cy="489.6" rx="5.5" ry="6.5"/>
<ellipse cx="1338.5" cy="489.6" rx="5.5" ry="6"/>
<rect x="1308.3" y="504.8" width="11" height="25" rx="5.5"/>
<rect x="1338.9" y="504.8" width="10" height="25" rx="5"/>
<rect x="1357" y="477.8" width="18" height="14.8"/>
<circle cx="1362.6" cy="508" r="5.5"/>
<ellipse cx="1380.4" cy="508" rx="5.5" ry="6.5"/>
<rect x="1428.5" y="475.3" width="8.7" height="7.4"/>
<rect x="1350" y="548.8" width="50.2" height="46.2"/>
<rect x="1390.3" y="536" width="8.7" height="8"/>
<rect x="1405" y="536" width="8.7" height="8"/>
<rect x="1405" y="548.8" width="8.7" height="7.9"/>
<rect x="1405" y="561.7" width="8.7" height="6.9"/>
<rect x="1405" y="574.8" width="8.7" height="7.4"/>
<rect x="1405" y="587" width="8.7" height="8.2"/>
<rect x="1373" y="603" width="11.9" height="11.2"/>
<rect x="1390.3" y="603" width="10.7" height="11.2"/>
<rect x="1406.3" y="603" width="9.9" height="11.2"/>
<rect x="1419.4" y="517.3" width="9.9" height="9.7"/>
<rect x="1419.4" y="532.8" width="9.9" height="9.2"/>
<rect x="1434.7" y="517.3" width="9.3" height="8.5"/>
<rect x="1434.7" y="529" width="9.3" height="8.7"/>
<rect x="1434.7" y="543.2" width="9.3" height="6.8"/>
<rect x="1434.7" y="555" width="9.3" height="7.4"/>
<rect x="1229.4" y="543.4" width="10.3" height="9.9"/>
<rect x="1243.4" y="543.4" width="9.9" height="9.9"/>
<rect x="1258.3" y="544.4" width="7.4" height="7.4"/>
<rect x="1229.4" y="558.2" width="10.3" height="9.8"/>
<rect x="1243.4" y="558.2" width="9.9" height="9.8"/>
<rect x="1257" y="558.2" width="10.4" height="9.8"/>
<rect x="1223.7" y="588.8" width="13.6" height="21.7"/>
<rect x="1224" y="578.5" width="14" height="8.5"/>
<rect x="1224" y="612.5" width="14" height="9.1"/>
<rect x="1239.2" y="587.8" width="9.9" height="25.2"/>
<rect x="1268.9" y="573.5" width="9.8" height="9.9"/>
<rect x="1283.7" y="573.5" width="9.8" height="9.9"/>
<rect x="1268.9" y="587.1" width="9.8" height="9.9"/>
<rect x="1283.7" y="587.1" width="9.8" height="9.9"/>
<rect x="1298.5" y="587.1" width="9.1" height="9.9"/>
<rect x="1268.9" y="601.2" width="9.8" height="9.8"/>
<rect x="1283.7" y="601.2" width="9.8" height="9.8"/>
<rect x="1298.5" y="601.2" width="9.1" height="9.8"/>
<ellipse cx="1321.2" cy="591.3" rx="6.5" ry="5.5"/>
<ellipse cx="1321.2" cy="608.6" rx="6.5" ry="5.5"/>
<rect x="1266.9" y="623.4" width="10.4" height="9.4"/>
<rect x="1282.2" y="623.4" width="11.1" height="9.4"/>
<rect x="1237.3" y="628.3" width="9.4" height="9.9"/>
<rect x="1237.3" y="643" width="9.4" height="10.7"/>
<rect x="1250.3" y="639.1" width="11" height="8" rx="4"/>
<circle cx="1279.2" cy="643.1" r="4.5"/>
<ellipse cx="1341" cy="629" rx="6" ry="6.5"/>
<ellipse cx="1358.2" cy="629" rx="5.5" ry="6.5"/>
<rect x="1373" y="624.1" width="12.3" height="10.6"/>
<rect x="1354" y="662" width="25.5" height="10.2" rx="5.1"/>
<rect x="1386.6" y="662" width="25.4" height="10.2" rx="5.1"/>
<rect x="1354" y="692" width="26" height="11" rx="5.5"/>
<rect x="1387" y="692" width="26" height="11" rx="5.5"/>
<rect x="1428.5" y="630.3" width="37.7" height="43.2"/>
<rect x="1421" y="632" width="7.5" height="5.2"/>
<rect x="1421" y="640.7" width="7.5" height="5.2"/>
<rect x="1421" y="649.3" width="7.5" height="5.2"/>
<rect x="1421" y="657.9" width="7.5" height="5.2"/>
<rect x="1421" y="666.6" width="7.5" height="5.2"/>
<rect x="1517" y="437.9" width="14" height="16.6"/>
<rect x="1544.3" y="437.9" width="14.3" height="16.6"/>
<rect x="1618.8" y="444" width="10.5" height="9.7"/>
<rect x="1633.7" y="444" width="9" height="9.7"/>
<rect x="1618.8" y="459" width="10.5" height="10"/>
<rect x="1633.7" y="459" width="9" height="10"/>
<rect x="1523.5" y="472.4" width="26.2" height="11.1" rx="5.6"/>
<rect x="1558.6" y="472.4" width="25.4" height="11.1" rx="5.6"/>
<rect x="1523.5" y="502.8" width="26.2" height="11.1" rx="5.5"/>
<rect x="1558.6" y="502.8" width="25.4" height="11.1" rx="5.5"/>
<rect x="1590" y="476.9" width="9.5" height="10.1"/>
<rect x="1604" y="476.9" width="9.8" height="10.1"/>
<rect x="1590" y="491.8" width="9.5" height="10.2"/>
<rect x="1604" y="491.8" width="9.8" height="10.2"/>
<circle cx="1595" cy="517.7" r="5.5"/>
<circle cx="1615.3" cy="517.7" r="5.5"/>
<circle cx="1595" cy="538" r="5.5"/>
<circle cx="1615.3" cy="538" r="5.5"/>
<rect x="1589" y="552" width="12" height="10.7"/>
<circle cx="1615.3" cy="558" r="5.5"/>
<rect x="1630.2" y="520.7" width="25.8" height="10.3" rx="5.1"/>
<rect x="1664" y="520.7" width="25.8" height="10.3" rx="5.1"/>
<rect x="1630.2" y="551.4" width="25.8" height="11" rx="5.5"/>
<rect x="1664" y="551.4" width="25.8" height="11" rx="5.5"/>
<rect x="1669" y="572" width="17" height="15.2"/>
<rect x="1669" y="599.7" width="17" height="14.9"/>
<rect x="1447.5" y="516.8" width="50.5" height="45.9"/>
<rect x="1525" y="556.5" width="10.4" height="9.8"/>
<rect x="1540" y="556.5" width="11" height="9.8"/>
<rect x="1499" y="570.5" width="9" height="8.9"/>
<rect x="1512" y="570.5" width="8.5" height="8.9"/>
<rect x="1525" y="570.5" width="8" height="8.9"/>
<rect x="1537" y="570.5" width="9.7" height="8.9"/>
<rect x="1500" y="583.3" width="46" height="50.7"/>
<rect x="1472.2" y="569.9" width="17" height="14.3"/>
<rect x="1472.2" y="596.7" width="17" height="16.4"/>
<rect x="1560.1" y="577.2" width="7.5" height="6.8" rx="2.5"/>
<rect x="1560.1" y="586.6" width="7.5" height="6.8" rx="2.5"/>
<rect x="1560.1" y="596.1" width="7.5" height="6.8" rx="2.5"/>
<rect x="1560.1" y="605.5" width="7.5" height="6.8" rx="2.5"/>
<rect x="1560.1" y="614.9" width="7.5" height="6.8" rx="2.5"/>
<rect x="1571.7" y="576.7" width="51" height="46.3"/>
<rect x="1473.7" y="631.1" width="14" height="8.2" rx="2.5"/>
<rect x="1473.7" y="642.4" width="14" height="8.2" rx="2.5"/>
<rect x="1473.7" y="653.7" width="14" height="8.2" rx="2.5"/>
<rect x="1473.7" y="665.1" width="14" height="8.2" rx="2.5"/>
<rect x="1497.5" y="651.9" width="9.5" height="8.9"/>
<rect x="1497.5" y="667.7" width="9.5" height="9.5"/>
<rect x="1522" y="637.9" width="51" height="45.3"/>
<rect x="1577.7" y="639.3" width="8.3" height="6.5" rx="2.5"/>
<rect x="1577.7" y="648.3" width="8.3" height="6.5" rx="2.5"/>
<rect x="1577.7" y="657.3" width="8.3" height="6.5" rx="2.5"/>
<rect x="1577.7" y="666.3" width="8.3" height="6.5" rx="2.5"/>
<rect x="1577.7" y="675.3" width="8.3" height="6.5" rx="2.5"/>
</g>
<g fill="none" stroke="#469800" stroke-width="2.6">
<path d="M214.4 189V163A13.4 13.4 0 0 1 227.8 149.6H1702.5A13 13 0 0 1 1715.5 162.6V189H1697A5.2 5.2 0 0 0 1697 199.4"/>
<path d="M214.4 189H236A5.2 5.2 0 0 1 236 199.4"/>
<path d="M214.4 199.4H1715.5"/>
<path d="M234 199.4A19.6 19.6 0 0 0 214.4 219V877.5A21 21 0 0 0 235.4 898.5"/>
<path d="M1699.5 199.4A16 16 0 0 1 1715.5 215.4V842A17 17 0 0 1 1698.5 859.1H1647.6A3 3 0 0 0 1644.6 862V877.5C1644.6 889 1638 895 1628 899C1618 903 1619 912 1630 910C1637 909 1645 904 1648 900.5"/>
<path d="M214.4 899.4H1713A3 3 0 0 1 1716 902.4V937A12.5 12.5 0 0 1 1703.5 949.4H227A12.6 12.6 0 0 1 214.4 936.8V909.8H236A5.2 5.2 0 0 0 236 899.4"/>
<path d="M844.2 854.4H985V909.7H844.2Z"/>
</g>
<circle cx="849.2" cy="858.4" r="4.2" fill="#d89a10" stroke="#469800" stroke-width="1.2"/>
<circle cx="980.8" cy="858.4" r="4.2" fill="#d89a10" stroke="#469800" stroke-width="1.2"/>
<g stroke="#ffffff" stroke-width="1" fill="none" shape-rendering="crispEdges">
<path d="M1230 308L1666.5 846.2M1230 626L1613.6 846.2M1231 739.5L1613.6 858.1M849.7 765L1613.6 874.4"/>
<rect x="1613.6" y="846.2" width="52.9" height="28.2"/>
</g>
<path d="M1873 700.6H2033M1873 759.2H2033" stroke="#469800" stroke-width="1.6"/>
</svg>
<div class="a" style="left:1871px;top:63px;width:164px;height:910px;background:#000"></div>
<div class="a" style="left:1871px;top:63px;width:164px;height:164px;background:#4a7e7a"></div>
<div class="a" style="left:1873px;top:65px;width:160px;height:160px;background:#000"></div>
<div class="a" style="left:1871px;top:225px;width:164px;height:2px;background:#c8fff8"></div>
<div class="a" style="left:2033px;top:63px;width:2px;height:164px;background:#c8fff8"></div>
<div class="a" style="left:1871px;top:227px;width:164px;height:245px;background:#4a7e7a"></div>
<div class="a" style="left:1873px;top:229px;width:160px;height:240px;background:#000"></div>
<div class="a" style="left:1871px;top:470px;width:164px;height:2px;background:#c8fff8"></div>
<div class="a" style="left:2033px;top:227px;width:2px;height:245px;background:#c8fff8"></div>
<svg class="a" style="left:1874px;top:66px" width="38" height="38" viewBox="0 0 38 38"><rect width="38" height="38" fill="#4a7e7a"/><path d="M0 0H38L35 3H3V35L0 38Z" fill="#dcffff"/><rect x="3" y="3" width="32" height="32" fill="#a0d9d9"/><rect x="4.6" y="4.6" width="28.8" height="28.8" fill="none" stroke="#000" stroke-width="1.2"/><rect x="12" y="13" width="15" height="14" fill="none" stroke="#000" stroke-width="2"/><path d="M19.5 6L25 10.5H23V17H16.5V10.5H14Z" fill="#000"/></svg>
<svg class="a" style="left:1914px;top:66px" width="38" height="38" viewBox="0 0 38 38"><rect width="38" height="38" fill="#4a7e7a"/><path d="M0 0H38L35 3H3V35L0 38Z" fill="#dcffff"/><rect x="3" y="3" width="32" height="32" fill="#a0d9d9"/><rect x="4.6" y="4.6" width="28.8" height="28.8" fill="none" stroke="#000" stroke-width="1.2"/><rect x="12" y="11" width="15" height="14.5" fill="none" stroke="#000" stroke-width="2"/><path d="M19.8 32L25.3 27H23V19H16.7V27H14.3Z" fill="#000"/></svg>
<svg class="a" style="left:1954px;top:66px" width="38" height="38" viewBox="0 0 38 38"><rect width="38" height="38" fill="#4a7e7a"/><path d="M0 0H38L35 3H3V35L0 38Z" fill="#dcffff"/><rect x="3" y="3" width="32" height="32" fill="#a0d9d9"/><rect x="4.6" y="4.6" width="28.8" height="28.8" fill="none" stroke="#000" stroke-width="1.2"/><path d="M8.5 18.5L18.2 8.5L28.8 18.5" fill="none" stroke="#000" stroke-width="1.5"/><path d="M10.5 17.5V29.8H26.5V17.5M10.5 18H26.5" fill="none" stroke="#000" stroke-width="1.6"/><path d="M10 30H27" stroke="#000" stroke-width="2"/><rect x="13.5" y="21" width="2.5" height="2.5" fill="none" stroke="#000" stroke-width="1"/><path d="M20 30V21.5H23.5V30" fill="none" stroke="#000" stroke-width="1.5"/><path d="M22 14V10H25V16.5" fill="none" stroke="#000" stroke-width="1.4"/><path d="M25.5 7L27.5 5.5" stroke="#000" stroke-width="1"/></svg>
<svg class="a" style="left:1994px;top:66px" width="38" height="38" viewBox="0 0 38 38"><rect width="38" height="38" fill="#4a7e7a"/><path d="M0 0H38L35 3H3V35L0 38Z" fill="#dcffff"/><rect x="3" y="3" width="32" height="32" fill="#a0d9d9"/><rect x="4.6" y="4.6" width="28.8" height="28.8" fill="none" stroke="#000" stroke-width="1.2"/><rect x="8.2" y="8.3" width="21.8" height="21.3" fill="none" stroke="#000" stroke-width="1.8"/><path d="M19.4 8.3V29.6M8.2 23.4H30" stroke="#000" stroke-width="1.2"/><path d="M21 19L23 21.8M23 19L21 21.8M24.5 19L25.8 20.4L27.1 19M25.8 20.4V21.8" stroke="#000" stroke-width="0.7" fill="none"/></svg>
<svg class="a" style="left:1874px;top:106px" width="38" height="38" viewBox="0 0 38 38"><rect width="38" height="38" fill="#4a7e7a"/><path d="M0 0H38L35 3H3V35L0 38Z" fill="#dcffff"/><rect x="3" y="3" width="32" height="32" fill="#a0d9d9"/><rect x="4.6" y="4.6" width="28.8" height="28.8" fill="none" stroke="#000" stroke-width="1.2"/><path d="M15 11H28V27H15" fill="none" stroke="#000" stroke-width="2"/><path d="M5 19L10 14V16H17V22H10V24Z" fill="#000"/></svg>
<svg class="a" style="left:1914px;top:106px" width="38" height="38" viewBox="0 0 38 38"><rect width="38" height="38" fill="#4a7e7a"/><path d="M0 0H38L35 3H3V35L0 38Z" fill="#dcffff"/><rect x="3" y="3" width="32" height="32" fill="#a0d9d9"/><rect x="4.6" y="4.6" width="28.8" height="28.8" fill="none" stroke="#000" stroke-width="1.2"/><path d="M23 11H10V27H23" fill="none" stroke="#000" stroke-width="2"/><path d="M33 19L28 14V16H21V22H28V24Z" fill="#000"/></svg>
<svg class="a" style="left:1954px;top:106px" width="38" height="38" viewBox="0 0 38 38"><rect width="38" height="38" fill="#4a7e7a"/><path d="M0 0H38L35 3H3V35L0 38Z" fill="#dcffff"/><rect x="3" y="3" width="32" height="32" fill="#a0d9d9"/><rect x="4.6" y="4.6" width="28.8" height="28.8" fill="none" stroke="#000" stroke-width="1.2"/><rect x="18.7" y="13.3" width="12" height="12.9" fill="none" stroke="#000" stroke-width="2"/><path d="M8 15.5H10.5Q13 15.5 13 18.5V23Q13 26 10.5 26H7.5" fill="none" stroke="#000" stroke-width="2.4"/><path d="M6.2 15.5L10 12V19Z" fill="#000"/></svg>
<svg class="a" style="left:1994px;top:106px" width="38" height="38" viewBox="0 0 38 38"><rect width="38" height="38" fill="#4a7e7a"/><path d="M0 0H38L35 3H3V35L0 38Z" fill="#dcffff"/><rect x="3" y="3" width="32" height="32" fill="#a0d9d9"/><rect x="4.6" y="4.6" width="28.8" height="28.8" fill="none" stroke="#000" stroke-width="1.2"/><path d="M30.5 12.1H10.1V19.2H29V26.2H7.8" fill="none" stroke="#000" stroke-width="2"/><path d="M34 9.5L30.5 12.1L34 14.7M5.5 23.4L8 26.2L5.5 29" fill="none" stroke="#000" stroke-width="0.9"/></svg>
<svg class="a" style="left:1874px;top:146px" width="38" height="38" viewBox="0 0 38 38"><rect width="38" height="38" fill="#4a7e7a"/><path d="M0 0H38L35 3H3V35L0 38Z" fill="#dcffff"/><rect x="3" y="3" width="32" height="32" fill="#a0d9d9"/><rect x="4.6" y="4.6" width="28.8" height="28.8" fill="none" stroke="#000" stroke-width="1.2"/><rect x="12.2" y="12.2" width="13.3" height="13.3" fill="none" stroke="#000" stroke-width="2.2"/><path d="M13 5.3H24V6.6H22.5L18.5 9.8L14.5 6.6H13ZM13 32.5H24V31.2H22.5L18.5 27.9L14.5 31.2H13ZM4.8 13.4V23.4H6.1V21.8L9.8 18.5L6.1 15.2V13.4ZM32.5 13.4V23.4H31.2V21.8L27.5 18.5L31.2 15.2V13.4Z" fill="#000"/></svg>
<svg class="a" style="left:1914px;top:146px" width="38" height="38" viewBox="0 0 38 38"><rect width="38" height="38" fill="#4a7e7a"/><path d="M0 0H38L35 3H3V35L0 38Z" fill="#dcffff"/><rect x="3" y="3" width="32" height="32" fill="#a0d9d9"/><rect x="4.6" y="4.6" width="28.8" height="28.8" fill="none" stroke="#000" stroke-width="1.2"/><rect x="15.1" y="16.2" width="7.6" height="7.6" fill="none" stroke="#000" stroke-width="2"/><path d="M13.5 11.6H23.5L18.5 7.6ZM13.5 27H23.5L18.5 31ZM11.5 14.5V24.5L7.3 19.5ZM26 14.5V24.5L30.7 19.5Z" fill="#000"/></svg>
<svg class="a" style="left:1954px;top:146px" width="38" height="38" viewBox="0 0 38 38"><rect width="38" height="38" fill="#4a7e7a"/><path d="M0 0H38L35 3H3V35L0 38Z" fill="#dcffff"/><rect x="3" y="3" width="32" height="32" fill="#a0d9d9"/><rect x="4.6" y="4.6" width="28.8" height="28.8" fill="none" stroke="#000" stroke-width="1.2"/><text x="19.5" y="25" text-anchor="middle" font-family="Liberation Sans" font-weight="bold" font-size="14.5" fill="#000" letter-spacing="-0.3">1:2</text></svg>
<svg class="a" style="left:1994px;top:146px" width="38" height="38" viewBox="0 0 38 38"><rect width="38" height="38" fill="#4a7e7a"/><path d="M0 0H38L35 3H3V35L0 38Z" fill="#dcffff"/><rect x="3" y="3" width="32" height="32" fill="#a0d9d9"/><rect x="4.6" y="4.6" width="28.8" height="28.8" fill="none" stroke="#000" stroke-width="1.2"/><rect x="8" y="8" width="22.5" height="22.5" fill="none" stroke="#000" stroke-width="2.2"/><text x="20.5" y="25.5" text-anchor="middle" font-family="Liberation Sans" font-weight="bold" font-size="13" fill="#000">?</text></svg>
<svg class="a" style="left:1874px;top:186px" width="38" height="38" viewBox="0 0 38 38"><rect width="38" height="38" fill="#4a7e7a"/><path d="M0 0H38L35 3H3V35L0 38Z" fill="#dcffff"/><rect x="3" y="3" width="32" height="32" fill="#a0d9d9"/><rect x="4.6" y="4.6" width="28.8" height="28.8" fill="none" stroke="#000" stroke-width="1.2"/><path d="M7 9.6H24" stroke="#000" stroke-width="2.8"/><circle cx="26" cy="9.6" r="3.8" fill="#000"/><path d="M27 8.3H31V10.9H27Z" fill="#a0d9d9"/><path d="M11 15.5H31V19.5H11L7 17.5Z" fill="none" stroke="#000" stroke-width="1.1"/><path d="M11 27Q11 21.5 18 21.5Q24.5 21.5 24 25Q23.5 30.5 16 30.5Q11 30.5 11 27Z" fill="none" stroke="#000" stroke-width="1.1"/><circle cx="16" cy="24" r="0.9"/><circle cx="19.5" cy="23.5" r="0.9"/><circle cx="13.5" cy="27" r="0.9"/></svg>
<svg class="a" style="left:1914px;top:186px" width="38" height="38" viewBox="0 0 38 38"><rect width="38" height="38" fill="#4a7e7a"/><path d="M0 0H38L35 3H3V35L0 38Z" fill="#dcffff"/><rect x="3" y="3" width="32" height="32" fill="#a0d9d9"/><rect x="4.6" y="4.6" width="28.8" height="28.8" fill="none" stroke="#000" stroke-width="1.2"/><path d="M13.2 5V33M23.6 5V33M5 14.1H33M5 24H33" stroke="#d89a9a" stroke-width="0.7"/><circle cx="13.7" cy="20" r="6" fill="#000"/><rect x="13.7" y="17.5" width="17.3" height="5" fill="#000"/><rect x="11" y="17.5" width="5.5" height="5.5" fill="#b02020" stroke="#e04040" stroke-width="1"/><rect x="12.7" y="19.2" width="2" height="2" fill="#902020"/></svg>
<svg class="a" style="left:1954px;top:186px" width="38" height="38" viewBox="0 0 38 38"><rect width="38" height="38" fill="#4a7e7a"/><path d="M0 0H38L35 3H3V35L0 38Z" fill="#dcffff"/><rect x="3" y="3" width="32" height="32" fill="#a0d9d9"/><rect x="3.6" y="3.6" width="30.8" height="30.8" fill="none" stroke="#e01818" stroke-width="3.6"/><rect x="5.9" y="5.9" width="26.2" height="26.2" fill="none" stroke="#000" stroke-width="1"/><path d="M9.5 5V17H18V31" fill="none" stroke="#e03030" stroke-width="1"/><path d="M16 9V25H10" fill="none" stroke="#1010e0" stroke-width="1.2"/><circle cx="16" cy="9" r="2.8" fill="#1010ff"/><circle cx="10" cy="25" r="2.8" fill="#1010ff"/><circle cx="9.5" cy="17" r="2.8" fill="#ff2020"/><rect x="20.5" y="7" width="10" height="24" fill="none" stroke="#000" stroke-width="1.2"/><circle cx="25.5" cy="12" r="3.3" fill="#ff1010" stroke="#000" stroke-width="0.8"/><circle cx="25.5" cy="19.5" r="2.6" fill="none" stroke="#000" stroke-width="0.9"/><circle cx="25.5" cy="26" r="2.6" fill="none" stroke="#000" stroke-width="0.9"/></svg>
<svg class="a" style="left:1994px;top:186px" width="38" height="38" viewBox="0 0 38 38"><rect width="38" height="38" fill="#4a7e7a"/><path d="M0 0H38L35 3H3V35L0 38Z" fill="#dcffff"/><rect x="3" y="3" width="32" height="32" fill="#a0d9d9"/><rect x="3.6" y="3.6" width="30.8" height="30.8" fill="none" stroke="#e01818" stroke-width="3.6"/><rect x="5.9" y="5.9" width="26.2" height="26.2" fill="none" stroke="#000" stroke-width="1"/><path d="M9.5 5V17M14 9V25H8" fill="none" stroke="#000" stroke-width="1"/><circle cx="14" cy="9" r="2.8"/><circle cx="8" cy="25" r="2.8"/><circle cx="9" cy="17" r="2.8"/><path d="M11 16.5H15" stroke="#e03030" stroke-width="2.5" stroke-dasharray="1 0.7"/><rect x="17.5" y="7" width="12" height="24" fill="none" stroke="#000" stroke-width="1.2"/><circle cx="23.5" cy="12" r="3.3" fill="#ff1010" stroke="#000" stroke-width="0.8"/><circle cx="23.5" cy="19.5" r="2.6" fill="none" stroke="#000" stroke-width="0.9"/><circle cx="23.5" cy="26" r="2.6" fill="none" stroke="#000" stroke-width="0.9"/></svg>
<svg class="a" style="left:1874px;top:230px" width="38" height="38" viewBox="0 0 38 38"><rect width="38" height="38" fill="#8a8a8a"/><path d="M0 0H38L35 3H3V35L0 38Z" fill="#f4f4f4"/><rect x="3" y="3" width="32" height="32" fill="#ffffff"/><rect x="4.6" y="4.6" width="28.8" height="28.8" fill="none" stroke="#000" stroke-width="1.2"/><rect x="11" y="13" width="15.5" height="15" fill="none" stroke="#000" stroke-width="1.4"/><circle cx="19" cy="20" r="6" fill="#000"/><path d="M22 15L28.5 9" stroke="#000" stroke-width="2"/><path d="M31 6.5L24.5 8L29.5 13Z" fill="#000"/></svg>
<svg class="a" style="left:1914px;top:230px" width="38" height="38" viewBox="0 0 38 38"><rect width="38" height="38" fill="#8a8a8a"/><path d="M0 0H38L35 3H3V35L0 38Z" fill="#f4f4f4"/><rect x="3" y="3" width="32" height="32" fill="#ffffff"/><rect x="4.5" y="4.5" width="29" height="29" fill="#000"/><rect x="4.6" y="4.6" width="28.8" height="28.8" fill="none" stroke="#000" stroke-width="1.2"/><rect x="17" y="8" width="13" height="13" fill="none" stroke="#d03838" stroke-width="2"/><rect x="6" y="21" width="6" height="6" fill="none" stroke="#2020c0" stroke-width="2"/><path d="M10 21L17 9M11.5 27L30 21" stroke="#e8e8e8" stroke-width="0.8"/></svg>
<svg class="a" style="left:1954px;top:230px" width="38" height="38" viewBox="0 0 38 38"><rect width="38" height="38" fill="#8a8a8a"/><path d="M0 0H38L35 3H3V35L0 38Z" fill="#f4f4f4"/><rect x="3" y="3" width="32" height="32" fill="#ffffff"/><rect x="4.6" y="4.6" width="28.8" height="28.8" fill="none" stroke="#000" stroke-width="1.2"/><rect x="7" y="19" width="24.5" height="4.5" fill="#000"/><path d="M8 19.5V13.5M11 19.5V15.5M14 19.5V13.5M17 19.5V15.5M20 19.5V13.5M23 19.5V15.5M26 19.5V13.5M29 19.5V15.5M31 19.5V13.5" stroke="#000" stroke-width="1.4"/></svg>
<svg class="a" style="left:1994px;top:230px" width="38" height="38" viewBox="0 0 38 38"><rect width="38" height="38" fill="#8a8a8a"/><path d="M0 0H38L35 3H3V35L0 38Z" fill="#f4f4f4"/><rect x="3" y="3" width="32" height="32" fill="#ffffff"/><rect x="4.6" y="4.6" width="28.8" height="28.8" fill="none" stroke="#000" stroke-width="1.2"/><rect x="8" y="8" width="21.5" height="22.5" fill="none" stroke="#000" stroke-width="1" stroke-dasharray="2 1.3"/><path d="M16 12H23L26.5 15.5V22.5L23 26H16L12.5 22.5V15.5Z" fill="#000"/></svg>
<svg class="a" style="left:1874px;top:270px" width="38" height="38" viewBox="0 0 38 38"><rect width="38" height="38" fill="#808080"/><path d="M0 0H38L35 3H3V35L0 38Z" fill="#f8f8f8"/><rect x="3" y="3" width="32" height="32" fill="#d4d4d4"/><rect x="4.6" y="4.6" width="28.8" height="28.8" fill="none" stroke="#000" stroke-width="1.2"/><path d="M10 9V24H24" fill="none" stroke="#1414f0" stroke-width="3"/><circle cx="10" cy="9.5" r="4.6" fill="#1414f0"/><circle cx="10" cy="24" r="4.6" fill="#1414f0"/><circle cx="24" cy="24" r="4.6" fill="#1414f0"/><circle cx="24.5" cy="10" r="4.4" fill="#e81818"/></svg>
<svg class="a" style="left:1914px;top:270px" width="38" height="38" viewBox="0 0 38 38"><rect width="38" height="38" fill="#808080"/><path d="M0 0H38L35 3H3V35L0 38Z" fill="#f8f8f8"/><rect x="3" y="3" width="32" height="32" fill="#d4d4d4"/><rect x="4.6" y="4.6" width="28.8" height="28.8" fill="none" stroke="#000" stroke-width="1.2"/><circle cx="19" cy="19.5" r="5" fill="#1414f0"/><path d="M11 12L27 27M27 12L11 27" stroke="#000" stroke-width="1.6"/></svg>
<svg class="a" style="left:1954px;top:270px" width="38" height="38" viewBox="0 0 38 38"><rect width="38" height="38" fill="#808080"/><path d="M0 0H38L35 3H3V35L0 38Z" fill="#f8f8f8"/><rect x="3" y="3" width="32" height="32" fill="#d4d4d4"/><rect x="4.6" y="4.6" width="28.8" height="28.8" fill="none" stroke="#000" stroke-width="1.2"/><circle cx="10" cy="26" r="3.3" fill="none" stroke="#1414f0" stroke-width="1.6"/><circle cx="26.5" cy="10" r="4.5" fill="#e81818"/><path d="M14 22.5L20.5 16" stroke="#000" stroke-width="1"/><path d="M22 14.5L18 15.5L21 18.5Z" fill="#000"/></svg>
<svg class="a" style="left:1994px;top:270px" width="38" height="38" viewBox="0 0 38 38"><rect width="38" height="38" fill="#808080"/><path d="M0 0H38L35 3H3V35L0 38Z" fill="#f8f8f8"/><rect x="3" y="3" width="32" height="32" fill="#d4d4d4"/><rect x="4.6" y="4.6" width="28.8" height="28.8" fill="none" stroke="#000" stroke-width="1.2"/><circle cx="10" cy="26" r="4.5" fill="#1414f0"/><circle cx="26.5" cy="10" r="4.5" fill="#e81818"/><path d="M14 22.5L20.5 16" stroke="#000" stroke-width="1"/><path d="M22 14.5L18 15.5L21 18.5Z" fill="#000"/></svg>
<svg class="a" style="left:1874px;top:310px" width="38" height="38" viewBox="0 0 38 38"><rect width="38" height="38" fill="#808080"/><path d="M0 0H38L35 3H3V35L0 38Z" fill="#f8f8f8"/><rect x="3" y="3" width="32" height="32" fill="#d4d4d4"/><rect x="4.6" y="4.6" width="28.8" height="28.8" fill="none" stroke="#000" stroke-width="1.2"/><path d="M9.5 26.5L27 9" stroke="#e81818" stroke-width="2.6" stroke-linecap="round"/><path d="M10 28.5H29" stroke="#1414f0" stroke-width="2.6" stroke-linecap="round"/><path d="M24 24L20.5 20.5M20.5 20.5V23M20.5 20.5H23" stroke="#000" stroke-width="0.9" fill="none"/></svg>
<svg class="a" style="left:1914px;top:310px" width="38" height="38" viewBox="0 0 38 38"><rect width="38" height="38" fill="#808080"/><path d="M0 0H38L35 3H3V35L0 38Z" fill="#f8f8f8"/><rect x="3" y="3" width="32" height="32" fill="#d4d4d4"/><rect x="4.6" y="4.6" width="28.8" height="28.8" fill="none" stroke="#000" stroke-width="1.2"/><path d="M9.5 27.5L18 19" stroke="#1414f0" stroke-width="2.6" stroke-linecap="round"/><path d="M18 19L27 9.5" stroke="#e81818" stroke-width="2.6" stroke-linecap="round"/><path d="M20.5 27L24.5 23M24.5 23V25.5M24.5 23H22" stroke="#000" stroke-width="0.9" fill="none"/></svg>
<svg class="a" style="left:1954px;top:310px" width="38" height="38" viewBox="0 0 38 38"><rect width="38" height="38" fill="#808080"/><path d="M0 0H38L35 3H3V35L0 38Z" fill="#f8f8f8"/><rect x="3" y="3" width="32" height="32" fill="#d4d4d4"/><rect x="4.6" y="4.6" width="28.8" height="28.8" fill="none" stroke="#000" stroke-width="1.2"/><path d="M15 13.5A7 7 0 1 1 16 26.5" fill="none" stroke="#000" stroke-width="1.8"/><path d="M13 26.5L17 23.5V29Z" fill="#000"/></svg>
<svg class="a" style="left:1994px;top:310px" width="38" height="38" viewBox="0 0 38 38"><rect width="38" height="38" fill="#808080"/><path d="M0 0H38L35 3H3V35L0 38Z" fill="#f8f8f8"/><rect x="3" y="3" width="32" height="32" fill="#d4d4d4"/><rect x="4.6" y="4.6" width="28.8" height="28.8" fill="none" stroke="#000" stroke-width="1.2"/><path d="M8 9.5H15V27M8 16H14" fill="none" stroke="#1414f0" stroke-width="2.2"/><path d="M19 7V32" stroke="#000" stroke-width="1"/><path d="M31 9.5H23V27M23 16.5H30" fill="none" stroke="#e81818" stroke-width="2.2"/></svg>
<svg class="a" style="left:1874px;top:350px" width="38" height="38" viewBox="0 0 38 38"><rect width="38" height="38" fill="#808080"/><path d="M0 0H38L35 3H3V35L0 38Z" fill="#f8f8f8"/><rect x="3" y="3" width="32" height="32" fill="#d4d4d4"/><rect x="4.6" y="4.6" width="28.8" height="28.8" fill="none" stroke="#000" stroke-width="1.2"/><rect x="21" y="7" width="10" height="10" fill="#e81818"/><circle cx="26" cy="12" r="2.7" fill="#d4d4d4"/><rect x="6.5" y="20.5" width="10" height="10" fill="none" stroke="#1414f0" stroke-width="1.2"/><circle cx="11.5" cy="25.5" r="3" fill="#1414f0"/><path d="M17 19L20 16M20 16V18.5M20 16H17.5" stroke="#000" stroke-width="1.1" fill="none"/></svg>
<svg class="a" style="left:1914px;top:350px" width="38" height="38" viewBox="0 0 38 38"><rect width="38" height="38" fill="#808080"/><path d="M0 0H38L35 3H3V35L0 38Z" fill="#f8f8f8"/><rect x="3" y="3" width="32" height="32" fill="#d4d4d4"/><rect x="4.6" y="4.6" width="28.8" height="28.8" fill="none" stroke="#000" stroke-width="1.2"/><path d="M9 18.5H29" stroke="#e81818" stroke-width="2.8" stroke-linecap="round"/><path d="M16 18.5H22" stroke="#1414f0" stroke-width="2.8"/></svg>
<svg class="a" style="left:1954px;top:350px" width="38" height="38" viewBox="0 0 38 38"><rect width="38" height="38" fill="#808080"/><path d="M0 0H38L35 3H3V35L0 38Z" fill="#f8f8f8"/><rect x="3" y="3" width="32" height="32" fill="#d4d4d4"/><rect x="4.6" y="4.6" width="28.8" height="28.8" fill="none" stroke="#000" stroke-width="1.2"/><path d="M8 7V30M30 7V30" stroke="#000" stroke-width="1"/><rect x="15" y="14" width="8" height="9" fill="none" stroke="#1414f0" stroke-width="1"/><path d="M9 18.5H15M23 18.5H29M11 16.5L9 18.5L11 20.5M27 16.5L29 18.5L27 20.5M18 16V20H20.5M19.5 17V21" stroke="#1414f0" stroke-width="0.8" fill="none"/></svg>
<svg class="a" style="left:1994px;top:350px" width="38" height="38" viewBox="0 0 38 38"><rect width="38" height="38" fill="#808080"/><path d="M0 0H38L35 3H3V35L0 38Z" fill="#f8f8f8"/><rect x="3" y="3" width="32" height="32" fill="#d4d4d4"/><rect x="4.6" y="4.6" width="28.8" height="28.8" fill="none" stroke="#000" stroke-width="1.2"/><path d="M8 8H18V12H25V26H14V23H8Z" fill="#1414f0"/><circle cx="13" cy="13.5" r="3.2" fill="#d4d4d4"/><circle cx="20.5" cy="20" r="4.3" fill="#d4d4d4"/></svg>
<svg class="a" style="left:1874px;top:390px" width="38" height="38" viewBox="0 0 38 38"><rect width="38" height="38" fill="#808080"/><path d="M0 0H38L35 3H3V35L0 38Z" fill="#f8f8f8"/><rect x="3" y="3" width="32" height="32" fill="#d4d4d4"/><rect x="4.6" y="4.6" width="28.8" height="28.8" fill="none" stroke="#000" stroke-width="1.2"/><path d="M8.5 27L20 15L29 27Z" fill="none" stroke="#e81818" stroke-width="1.8"/><path d="M8 26.5H29" stroke="#1414f0" stroke-width="2.5"/><path d="M20 24V19M18.5 20.5L20 19L21.5 20.5" stroke="#000" stroke-width="1" fill="none"/></svg>
<svg class="a" style="left:1914px;top:390px" width="38" height="38" viewBox="0 0 38 38"><rect width="38" height="38" fill="#808080"/><path d="M0 0H38L35 3H3V35L0 38Z" fill="#f8f8f8"/><rect x="3" y="3" width="32" height="32" fill="#d4d4d4"/><rect x="4.6" y="4.6" width="28.8" height="28.8" fill="none" stroke="#000" stroke-width="1.2"/><path d="M6 33L18.5 6L31 33" fill="none" stroke="#e81818" stroke-width="1.8"/><path d="M8 33L18.5 21L29 33" fill="none" stroke="#1414f0" stroke-width="2"/><path d="M18.5 18V12.5M16.5 14.5L18.5 12.5L20.5 14.5" stroke="#000" stroke-width="1.3" fill="none"/></svg>
<svg class="a" style="left:1954px;top:390px" width="38" height="38" viewBox="0 0 38 38"><rect width="38" height="38" fill="#808080"/><path d="M0 0H38L35 3H3V35L0 38Z" fill="#f8f8f8"/><rect x="3" y="3" width="32" height="32" fill="#d4d4d4"/><rect x="4.6" y="4.6" width="28.8" height="28.8" fill="none" stroke="#000" stroke-width="1.2"/><path d="M9 23L15 9H23L29 23" fill="none" stroke="#e81818" stroke-width="2.6"/><path d="M5.5 23H32.5" stroke="#1414f0" stroke-width="2.6"/><path d="M6.5 33L9 25M31.5 33L29 25" stroke="#1414f0" stroke-width="2.6"/><path d="M18.5 19V13M16.5 15L18.5 13L20.5 15" stroke="#000" stroke-width="1.3" fill="none"/></svg>
<svg class="a" style="left:1994px;top:390px" width="38" height="38" viewBox="0 0 38 38"><rect width="38" height="38" fill="#808080"/><path d="M0 0H38L35 3H3V35L0 38Z" fill="#f8f8f8"/><rect x="3" y="3" width="32" height="32" fill="#d4d4d4"/><rect x="4.6" y="4.6" width="28.8" height="28.8" fill="none" stroke="#000" stroke-width="1.2"/><path d="M9 25L15 9H23L29 25" fill="none" stroke="#e81818" stroke-width="2.6"/><path d="M4 24H34" stroke="#1414f0" stroke-width="2.6"/><path d="M6 21L11 27M11 21L6 27M27 21L32 27M32 21L27 27" stroke="#000" stroke-width="0.8"/><path d="M18.5 20V13M16.5 15L18.5 13L20.5 15" stroke="#000" stroke-width="1.3" fill="none"/></svg>
<svg class="a" style="left:1874px;top:430px" width="38" height="38" viewBox="0 0 38 38"><rect width="38" height="38" fill="#9c7a3a"/><path d="M0 0H38L35 3H3V35L0 38Z" fill="#ffe8b8"/><rect x="3" y="3" width="32" height="32" fill="#ffc65c"/><rect x="4.6" y="4.6" width="28.8" height="28.8" fill="none" stroke="#000" stroke-width="1.2"/><path d="M15 9L25.5 20.5H21.5L25 27L22.5 28.5L19 22L15 25Z" fill="#000"/></svg>
<svg class="a" style="left:1914px;top:430px" width="38" height="38" viewBox="0 0 38 38"><rect width="38" height="38" fill="#9c7a3a"/><path d="M0 0H38L35 3H3V35L0 38Z" fill="#ffe8b8"/><rect x="3" y="3" width="32" height="32" fill="#ffc65c"/><rect x="4.6" y="4.6" width="28.8" height="28.8" fill="none" stroke="#000" stroke-width="1.2"/><rect x="9" y="8" width="20" height="22" fill="none" stroke="#e81818" stroke-width="1.8"/><path d="M15.5 9L26 20.5H22L25.5 27L23 28.5L19.5 22L15.5 25Z" fill="#000"/></svg>
<svg class="a" style="left:1954px;top:430px" width="38" height="38" viewBox="0 0 38 38"><rect width="38" height="38" fill="#9c7a3a"/><path d="M0 0H38L35 3H3V35L0 38Z" fill="#ffe8b8"/><rect x="3" y="3" width="32" height="32" fill="#ffc65c"/><rect x="4.6" y="4.6" width="28.8" height="28.8" fill="none" stroke="#000" stroke-width="1.2"/><path d="M14.5 8H29V30H14.5L9 25V13Z" fill="none" stroke="#e81818" stroke-width="1.8"/><path d="M15.5 9L26 20.5H22L25.5 27L23 28.5L19.5 22L15.5 25Z" fill="#000"/></svg>
<svg class="a" style="left:1994px;top:430px" width="38" height="38" viewBox="0 0 38 38"><rect width="38" height="38" fill="#9c7a3a"/><path d="M0 0H38L35 3H3V35L0 38Z" fill="#ffe8b8"/><rect x="3" y="3" width="32" height="32" fill="#ffc65c"/><rect x="4.6" y="4.6" width="28.8" height="28.8" fill="none" stroke="#000" stroke-width="1.2"/><path d="M9.5 5V19M9.5 28H14V17H18V11H27" fill="none" stroke="#000" stroke-width="0.9"/><circle cx="9.5" cy="19.5" r="2.6" fill="#e03020" stroke="#000" stroke-width="0.6"/><circle cx="9" cy="28" r="2.6" fill="#30d030" stroke="#000" stroke-width="0.6"/><circle cx="27" cy="11" r="2.6" fill="#30d030" stroke="#000" stroke-width="0.6"/><path d="M20.5 17L29.5 27H26L28.5 32L26.5 33L24 28L20.5 30Z" fill="#000"/></svg>
<div class="a" style="left:1872px;top:472px;width:1.5px;height:501px;background:#4a7e7a"></div>
<div class="a" style="left:2033px;top:472px;width:2px;height:501px;background:#c8fff8"></div>
<div class="a" style="left:1873px;top:700px;width:160px;height:1.5px;background:#469800"></div>
<div class="a" style="left:1873px;top:758.5px;width:160px;height:1.5px;background:#469800"></div>
<div class="a" style="left:1881px;top:714px;width:72px;height:40px;background:#ff0000"></div>
<div class="a" style="left:1883px;top:717px;width:66px;height:35px;border-top:2px solid #b8b8b8;border-left:2px solid #b8b8b8;border-right:3px solid #20e0f0;border-bottom:3px solid #20e0f0;box-sizing:border-box"></div>
<svg class="a" style="left:1880px;top:744px" width="10" height="10"><path d="M1 9L9 1M1 1L9 9" stroke="#e0e0e0" stroke-width="0.8"/></svg>
<div class="a" style="left:1819px;top:965px;width:216px;height:8px;background:#c4d4e4;border-top:1px solid #fff;border-left:1px solid #fff"></div>
<div class="a" style="left:1832px;top:969px;width:0;height:0;border-left:3px solid transparent;border-right:3px solid transparent;border-bottom:4px solid #d02020"></div>
<div class="a" style="left:563px;top:214px;width:660px;height:543px;background:#000;"></div>
<div class="a" style="left:563px;top:214px;width:660px;height:30px;background:#fff;"></div>
<svg class="a" style="left:571px;top:221px" width="17" height="16" viewBox="0 0 17 16"><rect x="0.5" y="0.5" width="15" height="14" fill="#fffff0" stroke="#000" stroke-width="1"/><rect x="1" y="1" width="14" height="2.5" fill="#1a2a9a"/><path d="M3 12L12 5M4 7L10 12" stroke="#b8a800" stroke-width="1.6"/><path d="M3 12L12 5" stroke="#000" stroke-width="0.8"/><rect x="15" y="1" width="1.5" height="14.5" fill="#000"/><rect x="1" y="14.5" width="15.5" height="1.5" fill="#000"/></svg>
<div class="a" style="left:592px;top:219.5px;font:13px 'Liberation Sans',sans-serif;color:#222;line-height:17px;white-space:nowrap">Popview - 1</div>
<svg class="a" style="left:1201px;top:222px" width="13" height="13" viewBox="0 0 13 13"><path d="M1 1L12 12M12 1L1 12" stroke="#111" stroke-width="1.2"/></svg>
<div class="a" style="left:563px;top:244px;width:623px;height:3px;background:#3c7a6c;"></div>
<div class="a" style="left:563px;top:244px;width:3px;height:483px;background:#3c7a6c;"></div>
<div class="a" style="left:1183px;top:245px;width:3px;height:482px;background:#b0f0e0;"></div>
<div class="a" style="left:563px;top:725px;width:623px;height:3px;background:#c0f8e8;"></div>
<svg class="a" style="left:566px;top:247px" width="617" height="478" viewBox="566 247 617 478"><path d="M920 723V479A15 15 0 0 1 935 464H1183V492.6H949.5V723Z" fill="#469800"/></svg>
<div class="a" style="left:1186px;top:490px;width:36px;height:237px;background:#52cfb0;"></div>
<div class="a" style="left:1186px;top:490px;width:1px;height:237px;background:#b0f0e0;"></div>
<div class="a" style="left:1187px;top:246px;width:35px;height:34px;background:#2a5a50;"></div>
<div class="a" style="left:1187px;top:246px;width:34px;height:33px;background:#52cfb0;"></div>
<div class="a" style="left:1187px;top:246px;width:34px;height:33px;background:#3f7f72;clip-path:polygon(100% 0,100% 100%,0 100%,3px calc(100% - 3px),calc(100% - 3px) calc(100% - 3px),calc(100% - 3px) 3px)"></div>
<div class="a" style="left:1187px;top:246px;width:34px;height:33px;background:#c0fff0;clip-path:polygon(0 0,100% 0,calc(100% - 3px) 3px,3px 3px,3px calc(100% - 3px),0 100%)"></div>
<div class="a" style="left:1192px;top:251px;width:24px;height:23px;background:#000;"></div>
<div class="a" style="left:1193px;top:252px;width:22px;height:21px;background:#9ed9d9;"></div>
<svg class="a" style="left:1194px;top:253px" width="19" height="19" viewBox="0 0 19 19"><rect x="3" y="7" width="9" height="9" fill="none" stroke="#000" stroke-width="2"/><rect x="9" y="2" width="7" height="7" fill="none" stroke="#000" stroke-width="1.5"/><path d="M9 11.5H5M7 9.5L5 11.5L7 13.5" stroke="#000" stroke-width="1.3" fill="none"/></svg>
<div class="a" style="left:1187px;top:281px;width:35px;height:34px;background:#2a5a50;"></div>
<div class="a" style="left:1187px;top:281px;width:34px;height:33px;background:#52cfb0;"></div>
<div class="a" style="left:1187px;top:281px;width:34px;height:33px;background:#3f7f72;clip-path:polygon(100% 0,100% 100%,0 100%,3px calc(100% - 3px),calc(100% - 3px) calc(100% - 3px),calc(100% - 3px) 3px)"></div>
<div class="a" style="left:1187px;top:281px;width:34px;height:33px;background:#c0fff0;clip-path:polygon(0 0,100% 0,calc(100% - 3px) 3px,3px 3px,3px calc(100% - 3px),0 100%)"></div>
<div class="a" style="left:1192px;top:286px;width:24px;height:23px;background:#000;"></div>
<div class="a" style="left:1193px;top:287px;width:22px;height:21px;background:#9ed9d9;"></div>
<svg class="a" style="left:1194px;top:288px" width="19" height="19" viewBox="0 0 19 19"><path d="M3 9V17H16V9" fill="none" stroke="#000" stroke-width="2"/><path d="M9.5 2L14 6.5H11.5V12H7.5V6.5H5Z" fill="#000"/></svg>
<div class="a" style="left:1187px;top:316px;width:35px;height:34px;background:#2a5a50;"></div>
<div class="a" style="left:1187px;top:316px;width:34px;height:33px;background:#52cfb0;"></div>
<div class="a" style="left:1187px;top:316px;width:34px;height:33px;background:#3f7f72;clip-path:polygon(100% 0,100% 100%,0 100%,3px calc(100% - 3px),calc(100% - 3px) calc(100% - 3px),calc(100% - 3px) 3px)"></div>
<div class="a" style="left:1187px;top:316px;width:34px;height:33px;background:#c0fff0;clip-path:polygon(0 0,100% 0,calc(100% - 3px) 3px,3px 3px,3px calc(100% - 3px),0 100%)"></div>
<div class="a" style="left:1192px;top:321px;width:24px;height:23px;background:#000;"></div>
<div class="a" style="left:1193px;top:322px;width:22px;height:21px;background:#9ed9d9;"></div>
<svg class="a" style="left:1194px;top:323px" width="19" height="19" viewBox="0 0 19 19"><path d="M3 11V3H16V11" fill="none" stroke="#000" stroke-width="2"/><path d="M9.5 17L14 12.5H11.5V7H7.5V12.5H5Z" fill="#000"/></svg>
<div class="a" style="left:1187px;top:351px;width:35px;height:34px;background:#2a5a50;"></div>
<div class="a" style="left:1187px;top:351px;width:34px;height:33px;background:#52cfb0;"></div>
<div class="a" style="left:1187px;top:351px;width:34px;height:33px;background:#3f7f72;clip-path:polygon(100% 0,100% 100%,0 100%,3px calc(100% - 3px),calc(100% - 3px) calc(100% - 3px),calc(100% - 3px) 3px)"></div>
<div class="a" style="left:1187px;top:351px;width:34px;height:33px;background:#c0fff0;clip-path:polygon(0 0,100% 0,calc(100% - 3px) 3px,3px 3px,3px calc(100% - 3px),0 100%)"></div>
<div class="a" style="left:1192px;top:356px;width:24px;height:23px;background:#000;"></div>
<div class="a" style="left:1193px;top:357px;width:22px;height:21px;background:#9ed9d9;"></div>
<svg class="a" style="left:1194px;top:358px" width="19" height="19" viewBox="0 0 19 19"><path d="M8 3H16V16H8" fill="none" stroke="#000" stroke-width="2"/><path d="M2 9.5L6.5 5V7.5H12V11.5H6.5V14Z" fill="#000"/></svg>
<div class="a" style="left:1187px;top:386px;width:35px;height:34px;background:#2a5a50;"></div>
<div class="a" style="left:1187px;top:386px;width:34px;height:33px;background:#52cfb0;"></div>
<div class="a" style="left:1187px;top:386px;width:34px;height:33px;background:#3f7f72;clip-path:polygon(100% 0,100% 100%,0 100%,3px calc(100% - 3px),calc(100% - 3px) calc(100% - 3px),calc(100% - 3px) 3px)"></div>
<div class="a" style="left:1187px;top:386px;width:34px;height:33px;background:#c0fff0;clip-path:polygon(0 0,100% 0,calc(100% - 3px) 3px,3px 3px,3px calc(100% - 3px),0 100%)"></div>
<div class="a" style="left:1192px;top:391px;width:24px;height:23px;background:#000;"></div>
<div class="a" style="left:1193px;top:392px;width:22px;height:21px;background:#9ed9d9;"></div>
<svg class="a" style="left:1194px;top:393px" width="19" height="19" viewBox="0 0 19 19"><path d="M11 3H3V16H11" fill="none" stroke="#000" stroke-width="2"/><path d="M17 9.5L12.5 5V7.5H7V11.5H12.5V14Z" fill="#000"/></svg>
<div class="a" style="left:1187px;top:421px;width:35px;height:34px;background:#2a5a50;"></div>
<div class="a" style="left:1187px;top:421px;width:34px;height:33px;background:#52cfb0;"></div>
<div class="a" style="left:1187px;top:421px;width:34px;height:33px;background:#3f7f72;clip-path:polygon(100% 0,100% 100%,0 100%,3px calc(100% - 3px),calc(100% - 3px) calc(100% - 3px),calc(100% - 3px) 3px)"></div>
<div class="a" style="left:1187px;top:421px;width:34px;height:33px;background:#c0fff0;clip-path:polygon(0 0,100% 0,calc(100% - 3px) 3px,3px 3px,3px calc(100% - 3px),0 100%)"></div>
<div class="a" style="left:1192px;top:426px;width:24px;height:23px;background:#000;"></div>
<div class="a" style="left:1193px;top:427px;width:22px;height:21px;background:#9ed9d9;"></div>
<svg class="a" style="left:1194px;top:428px" width="19" height="19" viewBox="0 0 19 19"><rect x="6.5" y="6.5" width="6" height="6" fill="none" stroke="#000" stroke-width="1.6"/><path d="M4 4H8L6 6ZM15 4H11L13 6ZM4 15H8L6 13ZM15 15H11L13 13ZM2 7V12L5 9.5ZM17 7V12L14 9.5Z" fill="#000"/><path d="M3 3L16 16M16 3L3 16" stroke="#000" stroke-width="1.2"/></svg>
<div class="a" style="left:1187px;top:456px;width:35px;height:34px;background:#2a5a50;"></div>
<div class="a" style="left:1187px;top:456px;width:34px;height:33px;background:#52cfb0;"></div>
<div class="a" style="left:1187px;top:456px;width:34px;height:33px;background:#3f7f72;clip-path:polygon(100% 0,100% 100%,0 100%,3px calc(100% - 3px),calc(100% - 3px) calc(100% - 3px),calc(100% - 3px) 3px)"></div>
<div class="a" style="left:1187px;top:456px;width:34px;height:33px;background:#c0fff0;clip-path:polygon(0 0,100% 0,calc(100% - 3px) 3px,3px 3px,3px calc(100% - 3px),0 100%)"></div>
<div class="a" style="left:1192px;top:461px;width:24px;height:23px;background:#000;"></div>
<div class="a" style="left:1193px;top:462px;width:22px;height:21px;background:#9ed9d9;"></div>
<svg class="a" style="left:1194px;top:463px" width="19" height="19" viewBox="0 0 19 19"><rect x="7" y="7" width="5" height="5" fill="none" stroke="#000" stroke-width="1.6"/><path d="M9.5 2L12.5 5H6.5ZM9.5 17L12.5 14H6.5ZM2 9.5L5 6.5V12.5ZM17 9.5L14 6.5V12.5Z" fill="#000"/></svg>
<div class="a" style="left:563px;top:728px;width:660px;height:29px;background:#000;"></div>
<div class="a" style="left:564px;top:729px;width:657px;height:27px;background:#62c8b0;"></div>
<div class="a" style="left:565px;top:731px;width:655px;height:23px;background:#4f8a7e;clip-path:polygon(100% 0,100% 100%,0 100%,2px calc(100% - 2px),calc(100% - 2px) calc(100% - 2px),calc(100% - 2px) 2px)"></div>
<div class="a" style="left:565px;top:731px;width:655px;height:23px;background:#c0fff0;clip-path:polygon(0 0,100% 0,calc(100% - 2px) 2px,2px 2px,2px calc(100% - 2px),0 100%)"></div>
<div class="a" style="left:567px;top:733px;width:651px;height:19px;background:#9ed9d9;"></div>
<div class="a" style="left:564px;top:735.5px;width:657px;text-align:center;font:bold 14px 'Liberation Mono',monospace;line-height:17px;color:#000">Close</div>
</body></html>
